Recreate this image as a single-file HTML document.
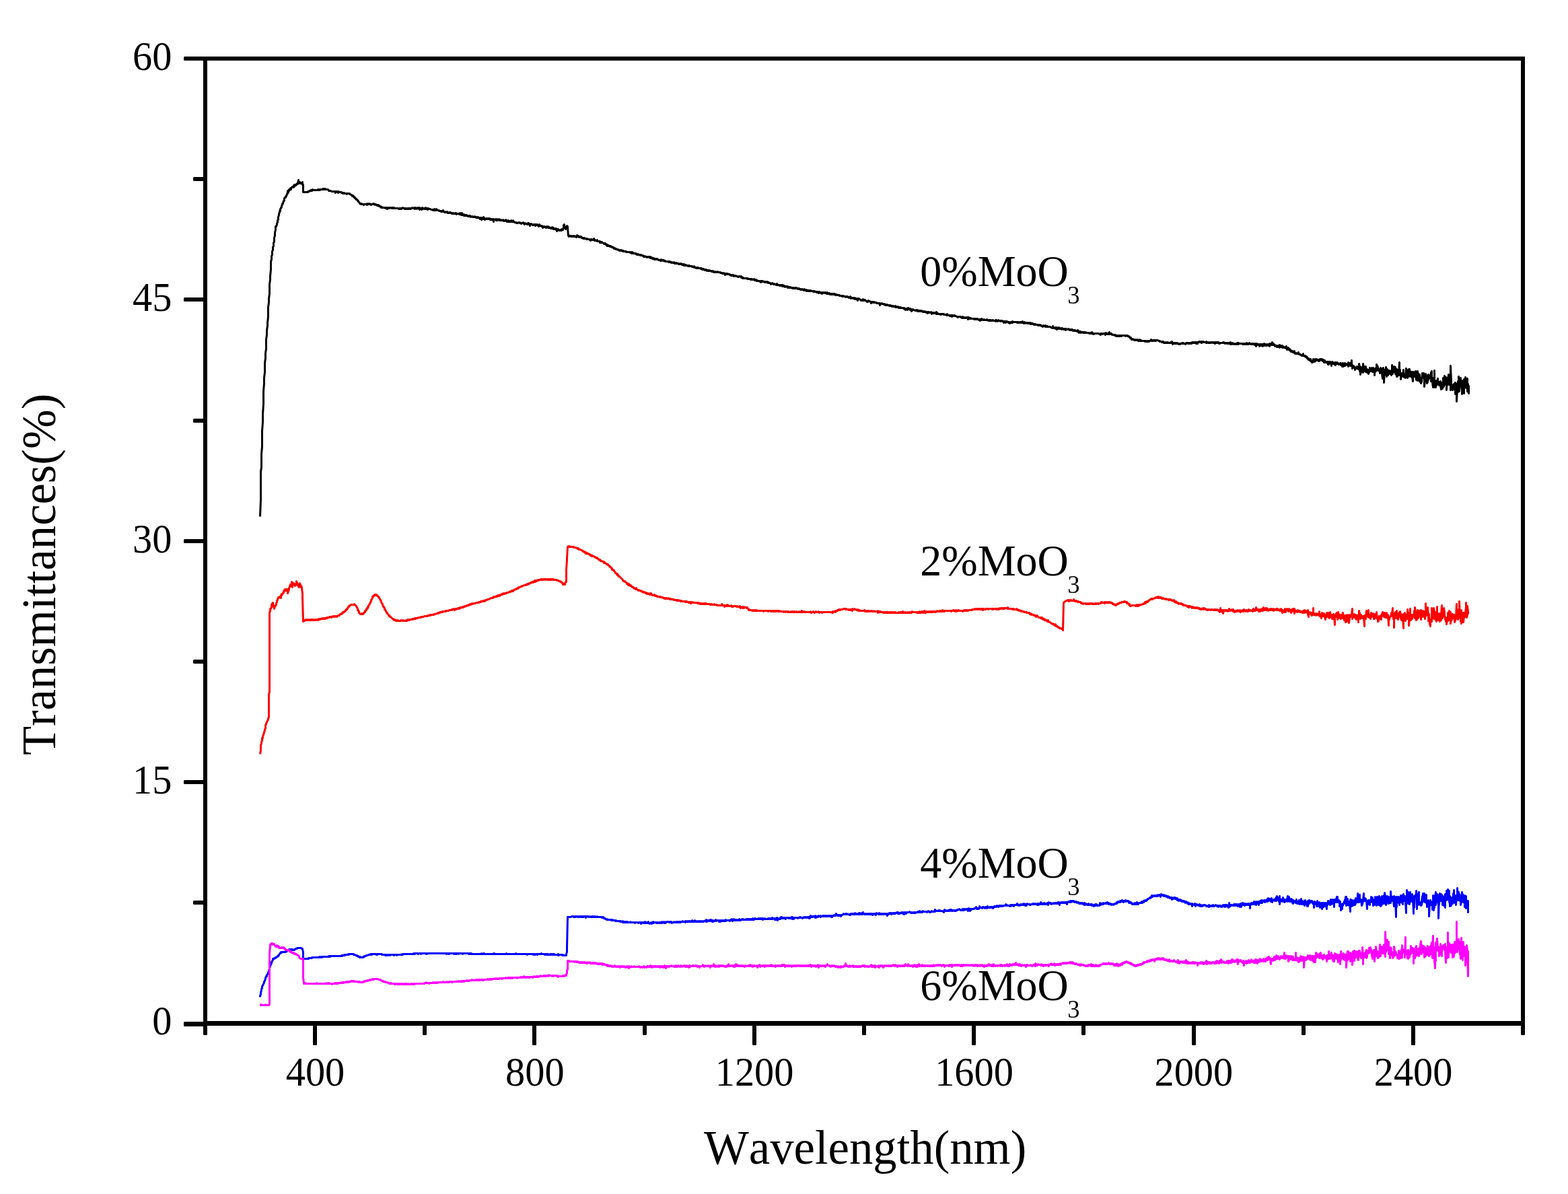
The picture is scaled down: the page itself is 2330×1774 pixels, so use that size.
<!DOCTYPE html>
<html lang="en"><head><meta charset="utf-8"><title>Transmittance spectra</title>
<style>html,body{margin:0;padding:0;background:#fff}body{width:2330px;height:1774px;overflow:hidden}svg{display:block}</style>
</head><body>
<svg width="2330" height="1774" viewBox="0 0 2330 1774"><rect x="0" y="0" width="2330" height="1774" fill="#fff"/>
<g fill="none" stroke-linejoin="round" stroke-linecap="butt">
<path d="M386.5 767.5l1-25 0-42 1-6 0-20 1-11 0-23 1-13 0-13 1-14 0-19 1-12 0-8 1-8 0-14 1-7 0-8 1-6 0-14 1-7 0-7 1-6 0-5 1-9 0-14 1-7 0-6 1-7 0-14 1-7 0-5 1-10 0-12 1-3 0-5 1-2 0-5 1-2 0-4 1-2 0-5 1-1 0-6 1-4 0 1 0-5 1-4 0-5 1-1 0 1 1-3 0-2 1-1 0-3 1-1 0-4 1-3 0-2 1-2 0-2 0 1 1-1 0-3 1-1 0-1 0 1 1-2 0-2 1-1 0-2 1 0 0-1 1-3 0 1 1-2 0-3 1-1 1-1 0-1 0 2 0-1 1-2 0 1 1-3 0-1 0 1 1-1 0-4 0 4 1-2 1-2 0-2 0 1 1-1 0 1 1-2 0-1 1 1 0 1 0-2 1-1 1-1 1 1 0-1 1 0 0-2 1 2 0-3 0 2 1-2 0 1 1 0 0-1 1 0 0-1 1 0 0-1 1 1 0-1 1-5 0 3 1 1 0-1 1 0 0 2 1 0 0-1 1 1 0-1 1 1 0-1 1 1 0-2 0 4 1 0 0 11 7 0 0-1 2 0 0-1 2 0 0-1 1 0 0 1 1 0 0-1 1-1 0 1 8 0 0-1 1 0 0 1 1 0 0-1 1 1 0-1 4 0 0-1 0 1 1-1 1 0 0 1 0-1 1 0 1 1 0-1 1 1 3 0 1 1 0 1 3 0 1 1 5 0 1 2 0-2 1 0 0 1 1-1 1 0 0 1 1-1 0 2 1-1 0-1 0 1 4 0 0 1 2 0 0 1 1-1 1 1 0-1 0 1 4 0 0 1 1-1 3 0 0 1 1 0 1 1 1 0 1 1 0 1 1-1 0 1 1 0 0 1 1 0 0 1 1 0 0 1 1 0 0 1 1 0 0 1 1 0 1 1 0 1 1 0 0 1 1 1 1 1 0 1 2 0 0 1 0-1 0 1 1 0 0-1 1 1 1 0 1 1 0-1 4 0 1-1 0 2 1-1 1 0 0-1 0 1 1 0 1-1 0 1 2 0 0 1 1-1 1 0 1-1 0 1 0-1 1 0 0 1 2 0 0 1 1-1 1 1 1 0 0 1 1-1 0 1 1-1 0 1 1 1 0-1 0 1 0-1 1 1 1 0 0 1 1 0 0 1 1-1 0 1 4 0 1 1 0-1 1 0 0 1 1-1 1 2 0-2 1 1 0-1 0 1 2 0 0-1 0 1 1-1 1 0 1 1 1 0 0-1 1 0 0 1 2 0 0-1 0 1 6 0 1 1 1-1 1 0 0 1 0-1 1 0 1 1 0-1 2 0 0-1 0 1 3 0 0 1 1-1 0 1 1 0 0-1 1 1 1 0 0-1 1 0 1 1 0-1 2 0 0 1 1-1 0 1 1-1 1 0 0-1 0 1 3 0 0-1 1 2 0-1 1-1 0 1 2 0 0 1 1-1 0-1 1 1 0-1 1 1 1 2 0-3 1 1 1 0 0 1 1-1 0 2 1-2 0-1 0 1 1 0 0 1 1-1 1 0 0 1 1 0 0-1 1 0 0-1 0 2 1-1 0 1 1 0 0-1 1 2 0-2 1 1 0-1 1 1 2 0 1 1 3 0 0 1 0-1 1 1 0-1 1 0 0-1 0 2 1 0 0-1 1 0 1 1 0-2 0 2 1-1 1 1 2 0 0 1 3 0 0 1 1-1 0 1 1-1 1-1 0 2 0-1 1 1 1 0 0 1 1 0 0-1 1 1 1 0 1-1 0 1 1 0 0 1 0-1 1 1 1-1 0 1 1-1 1 0 0 1 2 0 0 1 1-1 0 1 1 0 0-1 1 1 2 0 0-1 0 1 1 0 0-1 1 1 0 1 1-1 2 0 1 1 0-1 0 1 1 0 0-2 1 2 1 0 0 1 0-1 1-2 0 2 1 0 0 1 0-1 1 0 0 1 1-1 0 2 0-1 1 0 0 1 1-1 0 1 0-1 1 0 0 1 1 0 0-1 1 1 1 1 1-1 0 1 1-1 0 1 1 0 0-1 0 1 1 0 0 1 1-1 1 0 1 1 0-1 0 1 3 0 0-1 1 1 1 1 0-1 0 1 1 0 0-1 1 1 0-1 1 1 0-1 1 1 1 0 0 1 1 0 0-1 0 2 1-1 0-1 1 3 0-3 1 1 0-1 0 1 1 0 0 1 1 0 0-3 1 2 1 1 0 1 0-2 1 1 1-1 0 1 0-1 1 1 0-1 1 1 1 0 0-1 1 0 1 1 0-1 1 1 0 1 1 0 0-1 1 0 0 1 1 0 0-1 0 1 1 0 0-1 1 4 0-4 0 1 2 0 1-1 0 1 0-1 1 2 0-1 1 0 0 1 0-2 1 1 0 1 1-1 1-1 0 1 1 0 0 1 0-1 1 1 0-1 1 0 0 1 3 0 0-1 0 1 1 0 0 1 1-1 1 0 0 1 1-1 0-1 1 1 1 2 0-2 1 1 1-1 0 2 1-1 0 1 0-1 1 0 1 1 0-1 0 1 1-1 0-1 1 2 0-1 0 1 2 0 0-2 0 2 2 0 0 1 2 0 1 1 0-1 0 1 2 0 1-1 1 0 1 1 0-1 1 1 1 0 0 1 1-1 2 0 0-1 1 1 0 1 1 0 0 1 1-1 0-1 0 1 3 0 0 1 1-2 0 2 1-1 0-1 1 2 0-1 1 2 0 1 0-2 1-1 1 1 0-1 1 1 1 0 0 1 1-1 1 0 0 1 0-1 2 0 0 2 0-2 1 0 0 1 1 0 0-1 1 0 0 1 1 0 0 1 1 1 0-2 1 0 0-1 1 2 2 0 0 1 0-1 1 0 0 1 1 0 0 2 1-2 1 0 0 1 1 0 0-1 1 1 1 1 0-1 0 1 1-2 0 1 1 0 0-1 0 1 1-1 0 2 1-1 0 1 0-1 1 1 0-1 1 1 1 0 0 1 1-1 0 1 1-1 0 1 0-2 1 2 1-1 0 2 0-1 1 1 0-1 1 1 1-1 0 1 1-1 0 2 1-1 0 3 0-2 1-1 0 1 1 0 0-1 1 2 1 0 1-1 1 1 0-1 0 1 1 0 0-2 1 1 1 0 0-1 1-2 0-4 1-1 0 2 1 1 0 2 1 1 0 1 0-1 1-2 1-1 0-1 0 1 1 0 0 2 1 12 1-1 0 2 1-1 1 0 1 1 0-1 1 1 0-1 0 1 1-1 0 1 1-1 1 0 0 1 1-1 0 1 2 0 1 1 0-2 1 0 0-1 1 2 0-1 0 1 1 0 0-1 1 1 0 1 1-1 0 1 1 0 0-1 1 0 0 1 1 0 0 1 2 0 0 1 1-1 0 1 1 0 0-1 1 1 1 0 1 1 0-1 0 1 1-1 0 1 3 0 1 1 0-1 1 1 0 1 1-1 0-1 1 0 0 1 3 0 0-2 1 2 0 1 1 0 0-1 0 1 2 0 1-1 0 2 4 0 0 2 0-2 0 1 1 1 0-1 1 0 0 1 1-1 0 1 1 0 1 1 1 1 0-1 2 0 0 1 1 0 0 1 1 0 0 1 1-1 0 2 1-1 0 1 1 0 0-1 0 1 1 0 1 1 0-1 1 0 0 1 1 0 1 1 0-1 0 1 2 0 0 1 1 0 0 1 1-1 0 1 0-1 1 1 1 0 0 1 3 0 0 1 1 0 1 1 0-1 0 1 1-1 1 1 0-1 1 1 0-1 1 1 1 1 1-1 0 1 4 0 0 1 5 0 1 1 1 0 0-1 1 1 0 1 1-2 1 1 0 1 4 0 0 1 1-1 1 1 0 1 0-1 1 1 1-1 0 1 3 0 0 1 1 0 0-1 1 1 2 0 0 1 1 1 0-1 1 0 0 1 0-1 1 0 0 1 2 0 1 1 0-1 2 0 1 1 0-1 1 0 0 1 1-1 0 2 1-1 1 0 0 1 1 0 0 1 1-1 0 1 1 0 0-1 1 2 0-1 1 1 0-1 1 0 1 1 0-1 1 0 1 1 1 0 0 1 2 0 1 1 1-2 0 2 0-1 2 0 1 1 0-1 1 0 0 1 1 0 1 1 0-1 0 1 4 0 1 1 0-1 1 0 1 1 0-1 0 1 2 0 0 1 0-1 1 0 1 1 1 0 1-1 0 1 1 0 0 1 1-1 0 1 1-1 0 1 1 0 0-1 1 1 2 0 0 1 0-1 1 1 1 0 0-1 1 1 1 0 0-1 1 1 0 1 1-1 0 1 1-1 0 1 0-1 1 2 0-2 1 1 0 1 1-1 0 1 1-1 0 1 3 0 0 1 1 0 0-1 1 1 0-1 1 1 2 0 1 1 0-1 1 1 1 0 1-1 0 2 1-1 1 1 1 1 1-1 0 1 1 0 0-1 1 0 1 1 3 0 0 1 1-1 0 1 1 0 0 1 1-1 0 1 0-1 1 0 0 1 2 0 0 1 1-1 1 0 0 1 1 0 0 1 1-1 1 0 0 1 1 0 0-1 1 1 0-1 0 1 3 0 0 1 1 0 1-1 0 1 1 1 0-1 1 0 0 1 2 0 0-1 1 1 2 0 0-1 1 1 2 0 1 1 0-1 0 1 3 0 0 1 0-1 1 1 1-1 0 1 2 0 0 2 1-2 0 1 1 0 0-1 0 1 1-1 0 1 1-1 0 1 0-1 1 1 1 0 1 1 0-1 1 1 1 1 0-1 1 0 0 1 1 0 0-1 0 1 1-1 0 1 1 0 0 1 1-1 1 0 1 1 0-1 1 1 1 0 1 1 1-1 0 1 0-1 2 0 1 1 1 0 0-1 0 2 1-1 1 1 0 1 1 0 0-1 1 1 5 0 0 1 1 0 0-1 1 1 2 0 1 1 0-1 2 0 0 1 3 0 0-1 1 2 0-1 1 0 0 1 1-1 0 1 1 1 0-1 0 1 1-1 0 1 3 0 1 1 0-1 1 0 0 2 0-2 1 1 0-1 1 0 0 1 1-1 0 1 3 0 0 1 1 0 0-1 1 1 1 0 0-1 0 1 1-1 0 1 1 1 0-1 0 1 1-1 0 1 2 0 1 1 0 1 1-1 1 0 0-1 1 1 1 0 0 1 1 0 0-1 1 1 1 0 1 1 0-1 1-1 0 2 1 0 0-1 0 1 2 0 1 1 0-1 1 0 0 1 1-1 1 0 0 1 1 1 0-2 1 1 0-1 0 1 1 0 0 1 1-1 0 1 1 1 0-1 3 0 0 1 1-1 0 2 1-1 1 0 0 1 0-1 1 1 0-1 1 0 0 1 0-1 1 1 2 0 0 1 0-1 1 1 0-1 1 0 0 1 2 0 0-1 1 0 0 1 1 0 0-1 1 1 1 0 0 1 1-1 1 1 0-1 1 1 1 1 0-1 1 0 1 1 1-1 0 1 2 0 0 1 0-1 1-1 0 1 1 1 1 0 1 1 0-2 1 1 0 1 1-1 1 0 0 1 1-1 0 1 1-1 0 1 1-1 0 1 3 0 1 1 0-1 1 0 1 1 0-1 1 1 2 0 0 1 1-1 0 1 1-1 0 1 1 0 0 1 1-2 0 1 2 0 0 1 0-1 1 0 0 1 1 0 0-1 0 2 1-1 0-1 1 0 0 1 1-1 1 0 0 1 1 0 1-1 0 1 1 1 0-1 1-1 0 2 1-1 0 1 2 0 0-1 0 1 1 0 0 1 1-1 0 1 1 0 0-1 1 0 0 1 0-1 1 0 0 1 1-1 0 1 1 0 0-1 0 1 1-1 0 1 1 0 0 1 0-1 1 0 0 1 1-1 1 1 3 0 0 1 4 0 0 1 1 0 1-1 1 1 2 0 0 1 1-1 2 0 0 1 2 0 0 1 1-1 1 0 0-1 0 2 1-1 0 2 1-1 2 0 0 1 1-1 0 1 1 0 1-1 0 2 1-1 1 1 0-1 0 1 1 0 1 2 0-3 1 1 0-1 1 0 0 1 1 0 1 1 1 0 0 1 1 0 1-1 0 1 1 0 0-2 1 1 0 1 1 0 0-1 1 1 0-1 0 1 1 0 1 1 1 0 0 1 1-1 0 1 1-2 0 1 2 0 1 1 1 2 0-2 2 0 0 1 1 0 0-1 1 1 1 0 0-1 1 1 1 0 1 1 0-1 1 1 2 0 1 1 0-1 1 2 0-2 0 3 1-2 2 0 0-1 0 1 2 0 1 1 1-1 0 1 1 0 0 1 1-1 0 1 0-1 1 1 1 0 0-1 0 1 3 0 0 1 1-1 0 1 1 0 0-1 0 1 2 0 0 1 1-1 1 1 0-1 0 1 2 0 1-1 0 2 1 0 0-1 0 1 1-1 0 1 0-1 1 1 1-1 0 1 1 1 0-1 1 0 0 1 1-1 0 1 1-1 0 1 3 0 1 1 0-1 1 1 0-1 1 1 0 1 1-1 0 2 1-2 1 0 1 1 0 1 1-3 0 2 1 0 1-1 0 1 1 1 0-2 0 1 1 1 0-1 1 0 0 3 1-2 0 1 1-1 0-1 1 1 1 0 1 1 2 0 0-1 0 1 1 0 1 1 0-2 0 1 1 0 1 1 0-1 0 1 1-1 1 1 0-1 0 1 2 0 0-1 0 1 1 0 1 1 0-1 1 1 0-1 1 1 1 0 0-1 0 1 2 0 0 1 1 0 0-1 1 2 0-2 2 0 0 1 3 0 0-1 1 1 0 2 1-1 0-1 1 1 0-1 1 0 0 1 1-1 0 1 1 0 0-1 0 1 1 0 1 1 0-3 1 2 0 1 1 0 0-1 1 1 2 0 1 1 0-1 1 0 0 1 0-1 4 0 0 1 4 0 0 1 1-1 0-1 0 2 1-1 1 1 2 0 0 1 1 0 0-1 1 1 0-1 1 0 0 2 1-1 0-1 0 1 1 0 1-1 1 0 0 1 2 0 1 1 1 0 1 1 0-1 3 0 1 1 0-1 1 1 1 0 0 1 0-1 1 0 0-1 1 1 0 1 1-1 1 1 1-1 0 1 2 0 0-1 1 0 0 1 1 0 0 2 0-3 1 0 0 1 1 0 0 1 0-1 1 0 0 1 1-1 0 1 0-1 1 1 3 0 1 1 0-1 1 1 0-1 1 0 1 1 1-1 0 1 0-1 1 0 0 1 1 0 1 1 0-1 1 0 1 2 0-2 0 1 1 0 0-1 1-1 0 2 1 0 0-1 1 1 0-1 0 1 1 0 1-1 0 1 4 0 0-1 1 1 1 1 1 0 0-1 2 0 0 1 0-1 1 1 0-1 1 1 1-1 0 1 1-1 1 1 2 0 1-1 0 2 1-2 0 1 1 0 1 1 0-1 1-1 0 1 3 0 0 1 1-1 1 0 1 1 0-1 0 1 2 0 0 2 0-2 3 0 0 2 1-2 1 0 1 1 1 0 0 1 0-1 1 0 0 1 1 1 0-1 0 1 1-1 0-1 1 1 0-1 1 0 0 1 0-1 1 1 0-2 1 1 6 0 0 1 0-1 1 0 0 1 1-1 0 1 0-1 1 1 1-1 1 0 0 1 1 0 0-1 1 0 0 1 1-1 0-1 0 2 1-1 0 1 0-1 1 1 0 1 1-1 0-1 0 1 1 0 0 1 1-1 2 0 0 1 1 0 0-1 0 1 1-1 0 1 1 0 0-1 1 1 1-1 0 2 1 0 1-1 1 0 0 1 2 0 0 1 1-1 0 1 1-1 1 1 2 0 1 1 0-1 0 1 1-1 0 1 1 0 1-1 0 1 1 0 1 1 0-1 1 1 1 1 0-1 1-1 0 1 2 0 1-1 0 2 2 0 0-1 1 0 0 1 4 0 1 1 2 0 0 1 1-1 0-2 0 2 1 0 0 1 1-1 0 1 1 0 1 1 0-2 1 1 1 2 0-3 1 2 0-1 2 0 0-1 0 2 1 0 0-1 1 1 1 0 0-1 1 2 0-1 1 0 0-1 0 1 2 0 0 1 1-1 1 1 0-1 1 0 0 2 1-1 0-1 1 1 2 0 0-1 1 1 1 1 0-1 1 0 0 1 1 0 0-1 1 1 0-1 1 0 0 1 1 1 0-1 1 1 0-1 1 1 0-1 1 0 0 1 3 0 0 1 1 0 0-2 1 2 0 1 1 1 0-2 1 0 0 1 1 0 0-1 1 2 0-1 3 0 0 1 1 0 0-1 1 0 0 1 0-1 1 1 1-1 0 1 0-1 1 1 3 0 1 1 0-1 1 1 1 0 0-1 1 1 1 0 0-2 1 1 0 1 1 1 0-1 1 1 1-1 6 0 1 1 1 0 1 1 0-2 0 1 1-1 1 0 1 1 1-1 2 0 1 2 0-2 0 1 1-2 0 1 1 0 0 1 1-1 1 0 0 1 0-1 1-1 0 2 1 0 0-3 0 3 1-1 0 1 1-1 1 0 0 1 1 1 0-1 1 1 2 0 1 1 0-1 1 0 0 1 1 0 0 1 1 0 0-1 1 1 0-1 1 0 0 1 1 0 0-1 0 1 1-1 1 0 0 1 1 0 0-1 1 0 0 1 0-1 6 0 0 1 1-1 1 0 1 1 0-1 0 1 2 0 0 1 1 0 1 1 0 1 1-1 0 1 1 2 0-1 1 0 0 1 1 0 0-1 1 1 1 1 0-1 1 1 0-1 1 1 1 0 0-1 1 1 1-1 0 1 1 0 0 1 1-1 0 1 1 0 0-2 1 1 0 1 1 0 0-1 0 1 5 0 1 1 0-1 1 0 1 1 1-1 0 1 1 0 0-1 1 1 0-1 1 0 0 1 1-1 1 0 1-2 0 1 1 1 1 0 0-1 1 1 0-1 2 0 0 1 1-1 1 0 0 1 0-1 3 0 1 1 1 0 1 1 0-1 1 1 1 0 1 1 0-1 1 0 0 1 1 0 0-1 1 2 0-1 1 1 1-1 0 1 1 0 1-1 0 1 1 0 1-1 0 1 4 0 0-1 1 1 1 0 0-2 0 2 1 0 0 2 1-2 1 0 0 1 1 0 0-1 1 1 0-1 0 1 1 0 0-1 1 1 0-1 0 1 1 0 0-1 1 1 1 1 0-1 1 0 1 1 0-1 2 0 1-1 0 1 1 0 0-1 1 1 0-1 1 1 2 0 0 1 0-1 1 0 0-1 3 0 0 1 1 0 0-1 1 0 0 1 1-1 0 1 1-1 1 0 0 1 0-1 1 0 0-1 1 0 0 1 0-1 1 0 0 1 1-1 0 1 1-1 0 1 0-1 2 0 0 2 0-1 1-1 0 1 1-1 0 2 0-1 1-1 1 0 0-1 1 0 1 1 0-1 1 1 1-1 0 2 1-1 0-1 1 1 1 0 0-1 1 1 2 0 1-1 0 2 0-1 1 0 0 1 1-1 1 0 0 1 0-1 1 1 1 0 0-1 1 1 0-1 1 1 0-1 0 1 1-1 1 0 1 1 0-1 1 1 0-1 0 1 1-1 1 2 0-2 1 0 0 1 1 0 0-1 1 1 0-1 2 0 0 1 0-1 1 1 0 1 1-1 0 1 1-1 4 0 0-1 1 1 0-1 1 1 1 1 0-1 3 0 0 1 0-1 1 0 0 1 1 0 0-1 1 0 0 1 0-1 1 0 1 2 0-3 0 2 1 0 1 1 0-1 0 1 1-2 1 1 1 0 0 1 1-1 0 1 1-1 1 1 1-1 0 1 1-2 0 1 1-1 0 2 0-1 1-1 0 2 1-1 5 0 0 1 1-1 0 1 1 0 0-1 1 1 0-1 1 1 0-1 1 0 1 1 0-2 1 1 0 1 1-1 1 1 0-1 1 0 0-1 1 1 1 1 1 0 0-1 0 1 1-1 1 0 0 1 0-1 1 1 0-1 1 0 0 1 1 1 0-1 1 0 0-1 1 4 0-3 1-1 1 1 0 1 1-1 1 0 0 1 0-1 1 2 0 1 1-2 0 1 0-2 1 0 0 1 1 0 0 1 0-2 1 0 0 1 1 2 0-3 1 0 1-1 0 2 1 1 0-2 0 1 1 0 0-1 1 1 0 1 0-2 1 1 0 1 1-2 1 1 1-1 0 2 0-2 1-1 0 4 1-3 1 0 0-1 0 1 1 0 0 1 1 0 0-4 1 4 0-1 1-1 0 2 1 0 1 1 0-1 0 2 1-1 1 0 0 1 1-1 0 2 1-1 0 1 1-2 1 0 0 2 1 1 0-4 1 2 1-1 0 2 1-1 1 2 0-3 0 2 1-1 0 1 1 1 0-1 1 0 0 1 1-1 0 1 1 1 0-2 0 2 1-3 0 3 1-1 0 3 1-1 0-1 1 1 0-2 0 3 1-1 1 0 0 2 1 0 0 1 1-1 0 2 1 0 0-1 1 1 0-1 1 2 0-1 1 1 1-1 0-1 0 3 1 1 0-1 1 1 0-1 1 1 0-1 1 1 1-1 0 1 1-2 0 2 1 0 0 1 0-1 1 1 1 1 0-1 1 1 1 1 0-1 0 1 1-1 0 1 1 0 0-3 0 3 2 0 0 1 1-1 0 1 1 0 0 1 1 0 0-1 0 2 1 1 0-2 1 3 0-1 1 0 0 2 1 0 0-1 1 1 0 1 1 0 0 1 0-3 1 3 1 2 1-1 0 1 0-2 1 1 0-4 1 1 0 2 1 0 0 1 1-1 0-3 0 2 1-1 1 1 0-2 0 1 1 1 1-1 0 1 0-1 1 2 0-2 1 2 0-2 1 1 0-2 0 2 1-2 0 1 1-1 0 1 1-1 0 2 1-1 0 2 1-1 0-1 1 1 0 3 0-3 1 1 0-1 1 3 0-1 0 1 1 0 0-1 2 0 0 2 0-2 1 0 0 4 1-4 0 4 0-3 1 0 0-1 1 0 0 1 1 2 1-2 0 5 0-3 1-2 0-1 1 3 0-2 1 2 1-1 0-1 1 3 0-2 1 3 0-4 1 2 0-2 1 2 0-1 1-1 0 2 1 0 1 1 0-1 1 0 0 1 1-2 0 1 1-1 0 3 1-1 0 1 1-1 0 3 0-3 1-2 0 3 1 2 0-3 0 2 1-1 1 0 0 1 0-4 1 3 0-2 1 2 0-2 0 1 2 0 1-1 0 4 0-6 0 4 1-3 0 1 1 0 1-1 0 4 1-1 0 1 1-8 0 8 1 0 0-1 0 5 1-2 1-2 0 1 1 1 0 1 1-1 0 4 1-2 0-1 1 1 1-2 0-1 1 2 0 1 1-1 0 2 0-2 1 0 0-6 1 4 0 7 1-2 0 7 1-5 0-6 1 1 0 1 1-2 0 6 1 2 0-5 0 2 0-10 1 9 0-4 1 6 0-7 1 1 0 1 1 1 0-3 0 8 1-2 0-1 1-1 0 5 0-1 1-3 0 1 1 1 0 4 1-6 0 4 1-7 0 1 1 3 0 1 0-2 1 1 1-1 0-3 0 4 1 2 0-1 1-1 0-4 0 4 1 2 0-3 1 0 0 8 1-10 0 5 0-2 1 1 0-4 1-2 0 4 0-8 1 4 0-2 1 2 0 5 1-2 1 0 0 3 1-3 0 6 1-6 0 3 0-5 1 1 0 2 1 1 0 4 1 8 0-12 0 2 1-6 0 2 1 1 0 19 1-19 0 3 1 4 0-4 1 2 0-9 1 4 0 10 0-6 1-3 0-2 1 5 0 4 1-7 0 1 1 0 0-1 1 5 0-4 1 1 0 1 1 4 0-7 1 4 0-12 1 13 0-2 1-3 0-2 1 4 0-8 0 7 1-4 0 2 1 6 0-10 1 8 0 3 0-6 1-2 0 11 1-3 0-7 0 10 1-4 0-4 1 3 0-4 0 5 1-17 0 19 1-8 0 5 1 3 0 6 1-8 0-1 0 2 1 3 0-4 1 0 0 3 1-9 0 6 1 5 0-2 1 1 0-3 1-1 0 6 1-14 0 11 1-2 0 2 1-4 0 7 0-9 1 1 0-4 1-1 0 10 1-10 0 11 1-4 0-4 1 3 0-1 0 3 1-2 0 6 1-8 0 7 1 7 0-11 1-1 0 2 0-4 1 4 0 3 1-3 0-2 0 2 1 4 0-9 1 13 0-9 1-2 0 9 0-5 1-6 0 14 1-11 0 10 1-6 0 5 1-7 0 10 0-7 1 6 0 2 1-2 0 4 0-3 1 1 0-7 0 7 1-13 0 5 0-1 1-3 0 5 1-6 0 7 1 0 0-1 0 14 1-10 0 3 1-7 0-5 1 9 0-7 1 6 0 6 1-2 0-6 1 3 0-8 0 4 1 2 0-5 1 1 0 3 0-1 1 1 0-2 1-6 0 13 1-15 0 11 1 5 0 1 1 7 0-14 0 12 1-3 0-1 1 6 0-25 0 14 1 4 0 1 1 0 0 6 1-4 0-6 1 6 0-2 1-7 0 8 0-1 1 0 0-2 1 0 0 5 0-2 1-2 0-1 1-1 0 6 1 6 0-6 1-2 0-2 0 6 1 3 0-5 1-1 0-10 1 7 0 6 1-16 0 13 1-1 0-8 0 5 1 4 0-11 1 7 0-1 0 13 1-18 0 6 1 3 0-10 0 11 1-15 0 7 1-2 0 10 1-2 0-4 1-2 0 16 0-36 1 23 0 7 1-1 0 1 1 2 0 4 0-5 1 3 0-6 1 4 0 3 0-8 1 3 1-5 0 17 1-16 0 4 1 0 0-1 0 24 1-19 0 1 1 4 0-16 1 12 0-19 1 10 0 12 1-18 0 10 1-12 0 5 1 4 0 4 0-3 1 8 0 6 1-17 0 9 0-12 1 7 0 6 1 6 0-21 0 7 1-2 0 8 1-9 0-7 1 15 0-13 0 6 1-1 0 9 1-14 0 19 1-11 0 10 1 4 0-12" stroke="#000" stroke-width="3"/>
<path d="M386.5 1120.5l1-6 0-7 1-3 0-2 1-2 0-4 1 0 0-3 1-1 0-2 1-1 0-2 1-2 0-2 1-1 0-5 1-1 0-2 1-1 0-1 1-1 0-1 1-1 0-2 1-2 0-34 1-3 0-119 1-1 0-4 1 0 0-1 1-1 0-4 1-1 0-1 0 1 1-1 0 1 0-2 1 5 0 1 1 0 0 3 1-4 0 1 1-1 0-1 1-1 0-2 1-2 0-2 1-1 0-1 1-2 0-1 1 0 0 1 1-1 0-1 1 0 1 2 0-4 0 1 1-3 0 2 0-1 1-1 0 1 1-2 1-2 0 1 0-2 1 0 0-2 1-1 1 0 0 2 1-2 0 2 1-1 0 1 1-2 0 6 1-3 0-3 1 0 0 1 0-3 1-1 0-1 1-3 0 3 1-3 1-2 0-2 1 2 0 6 0-6 1 1 0-1 1 1 0-1 0 2 1 1 0-2 1 2 0 1 1-2 0 1 1-3 0-3 0 2 1 0 0 1 1 3 0-2 0 1 1 3 0-1 1 2 0-1 1-3 0-2 0 4 1-2 0 2 0-1 1 1 0 2 0-2 1 2 0 2 1 8 0 6 1 34 0 1 1-1 0-1 1 1 0-1 1 0 1-1 1 1 1 0 0-1 1 1 1 0 0-1 1 1 1 0 0-1 1 0 0 1 1 0 0-1 0 1 1-1 0 1 1-1 1 0 0 1 1-1 0 1 1 0 1-1 1 0 0 1 1-1 1 0 1 1 0-1 1-1 0 1 2 0 0-1 0 1 1-1 2 0 0-1 1 1 1 0 0-1 1 1 0-1 2 0 0 1 1-1 1 0 0-1 1 1 0-1 3 0 0-1 2 0 1 1 0-1 1 0 1-1 0 1 1 0 0-1 0 1 1-1 1 1 0-1 2 0 1 1 0-1 1 0 1-1 2 0 0-1 1-1 2 0 0-1 1 0 0-1 1 0 0-1 2 0 0-1 1 0 1-1 0-1 1 0 0-1 1 0 0-1 1 0 0-1 1-1 0-1 1 0 0-1 1 0 0-1 1 0 1-1 5 0 0-1 0 1 1 0 1 1 1 1 0 1 1 1 1 2 0 2 1 0 0 1 1 1 0 2 1 1 1 1 1 0 1-1 0 1 2 0 0-1 1 0 0-1 1-1 1 0 0-2 0 1 1-1 0-1 1 0 0-2 1 0 0-1 1 0 0-2 1 0 0-1 1-2 1-1 0-1 1-1 0-1 1-1 0-2 1-1 1-2 0-2 1 0 0-1 1 0 0-1 1 0 0-1 1 1 0-1 2 0 0 1 1 0 0 1 1 0 1 1 0 1 1 0 0 1 1 1 0 1 1 1 0 1 1 1 0 1 1 2 1 1 0 2 1 1 0 1 1 0 0 1 1 1 0 2 1 0 0 1 1 1 0 1 1 1 0 1 1 0 0 1 1 1 1 1 0 1 1 0 0 1 1 0 0 1 0-1 1 1 1 1 1 1 1 1 1 0 0 1 1 1 0-1 1 0 0 1 0-1 1 1 1 0 0 1 1-1 1 0 0 1 1 0 0-1 0 1 3 0 1-1 0 1 1-1 1 0 1 1 1-1 1 1 3 0 0-1 1 1 0-1 1 0 0-1 1 1 1-1 1 1 1-1 2 0 1-1 1 0 0 1 0-1 3 0 0-1 1 0 0 1 0-1 3 0 1-1 3 0 1-1 0 1 1-1 3 0 1-1 5 0 0-1 0 1 1-1 1 0 1-1 0 1 1-1 0 1 1-1 3 0 1-1 0 1 0-1 3 0 1-1 2 0 0-1 1 0 0 1 1-1 1 0 0-1 3 0 1-1 0 1 0-1 5 0 0-1 4 0 1-1 4 0 0-1 1 0 1-1 0 1 2 0 0 1 1-2 0 1 1 0 0-1 0 1 1-1 2 0 0-1 1 0 1 1 0-1 1 0 0-1 1 0 0 1 1-1 2 0 0-1 1 1 0-1 2 0 0-1 3 0 0-1 3 0 0-1 1 0 1-1 0 1 1 0 0-1 2 0 0-1 0 1 1 0 1-1 3 0 1-1 4 0 0-1 3 0 0-1 3 0 0-1 1 1 0-1 1 0 0 1 0-1 2 0 0-1 2 0 1-1 2 0 1-1 1 0 1-1 3 0 0-1 0 1 1-1 0-1 1 1 1-1 2 0 0-1 0 1 1 0 0-1 1 0 0-1 1 1 0-1 2 0 0 1 1-1 0-1 0 1 1-1 1 0 0-1 1 1 0-1 1 0 0-1 1 1 1 0 0-1 2 0 1-1 0 1 1-1 2 0 1-1 2 0 0-1 2 0 0-1 1 0 1 1 0-1 1-1 1 0 1-1 2 0 0-1 2 0 0-1 1 0 0-1 0 1 1-1 1 0 1-1 2 0 0-1 2 0 1-1 2 0 1-1 0 1 1-1 1 0 0-1 1 1 0-1 1 0 1-1 0 1 1-1 1-1 0 1 0-1 0 1 1-1 1 0 0-1 1 0 1 1 0-1 1 0 0-1 1 0 0-1 1 2 0-2 2 0 0 1 0-1 1 0 1-1 0 1 1-1 0 1 1-1 2 0 0-1 1 1 0-1 1 1 0-1 1 1 1 0 0-1 3 0 0 1 0-1 2 0 1 1 0-1 1 0 0 1 1-1 0 1 1 0 0-1 1 0 0 1 0-1 1 0 0 1 1 0 0-1 1 0 1 1 0-1 1 1 0-1 1 1 3 0 1 1 0-1 1 1 1 0 1 1 2 0 0 1 2 0 0 1 1 1 1 0 0 2 3 0 0-2 1-1 0-1 1 0 0-18 1-14 0-3 1-17 1-1 0 1 2 0 0-1 1 1 5 0 0 1 3 0 1 1 2 0 0 1 1-1 0 1 1 0 0 1 2 0 1 1 1 0 1 1 1 0 0 1 0-1 1 1 1 0 0 1 1 0 0 1 1-1 0 2 0-1 2 0 0 1 1 0 1 1 0-1 1 1 1 0 0 1 1 0 0 1 1 0 0-1 1 1 0 1 1 0 0-1 1 1 1 0 1 1 1 1 0-1 1 1 1 0 0 1 0-1 1 0 0 1 1 1 1 0 0 1 2 0 0 1 1 0 0 1 2 0 1 1 2 0 0 2 1-1 0 1 1 0 1 1 1 0 0 1 1 0 1 1 0-1 0 1 1 1 1 0 0 1 1 0 0 1 1 0 1 1 0 1 1 0 0 2 1 0 1 1 0-1 1 1 0 1 1 1 1 1 0 1 1 0 1 1 0 1 1-1 0 2 1 0 0 1 1 0 0 1 1 0 1 1 1 1 1 1 1 1 1 1 0 1 1 1 2 0 0 1 1 0 1 1 1 1 0 1 1 0 0-1 0 1 1 0 0 2 1-2 0 2 1-1 0 1 1 1 1-1 0 1 1 1 1 0 0 1 2 0 0 1 1 0 0 1 2 0 0 1 1-2 0 2 1 0 1 1 1 0 0 1 1 0 0-1 1 1 2 0 0 1 2 0 0 1 1 0 1 1 0-1 1 0 1 1 1 0 0 1 1-1 1 2 0-1 1 0 1 1 0-1 1 1 1 0 0 1 1-2 0 2 1-2 0 2 2 0 0 1 3 0 0-1 0 1 1 0 0 1 1-1 0 1 1 0 1 1 0-1 0 1 4 0 0 1 1-1 1 1 2 0 1 1 2 0 0 1 0-1 1 1 0-1 1 1 0-1 1 0 0 1 0-1 1 1 1 0 1-1 0 1 1 0 1 1 0-1 1 0 0 1 4 0 1 1 0-1 1 1 3 0 0 1 0-1 2 0 0 1 1 0 0-1 1 1 2 0 0 1 1 0 0-1 1 1 5 0 0 1 1 0 0-1 1 0 0 1 2 0 1 1 0-1 0 1 1 0 0-1 1 0 0 1 1-1 0 2 1-2 0 1 1 0 1-1 1 1 6 0 0 1 1-1 0 1 1 0 0-1 0 1 1 0 1 1 0-1 1 0 0 1 0-1 1 0 0 1 1-1 0 1 1 0 0-1 1 1 0-1 1 0 0 1 1 0 1-1 0 1 1 0 0-1 1 1 5 0 0 1 1-1 0 1 1-1 1 1 2 0 1-1 0 1 4 0 0 1 7 0 0-2 1 2 3 0 0 2 0-2 2 0 0 1 1-1 1 0 0 1 0-2 1 1 0 1 1-1 1 1 3 0 0-1 1 1 0 1 0-1 2 0 0 1 1-1 3 0 1 1 1 0 0-1 1 1 2 0 1-1 0 2 1 1 0-2 1 1 2 0 0-1 0 2 1-1 1 1 0-2 0 1 3 0 1 1 0-1 1 0 0 1 1 1 1 1 0 1 1-1 0 1 3 0 1 1 1 0 0-1 0 1 2 0 0-1 0 1 1 0 0-1 1 1 1 0 0-1 0 1 1 0 0-1 1 1 8 0 1 1 0-1 6 0 1 1 0-1 4 0 0 1 0-1 1 1 0-1 2 0 0 1 1-1 0 1 1-1 0 1 1 0 0-1 1 1 0-1 1 0 0 1 0-1 2 0 1 1 0-1 0 1 1-1 0 1 1-1 1 1 5 0 0 1 1-1 2 0 0 1 1-1 1 0 1 1 1-1 0 1 0-1 1 1 2 0 1-1 1 1 1-1 0 1 1-1 0 1 1-1 0 1 1 0 0-1 0 1 2 0 1-1 0 1 3 0 1-1 0 1 3 0 1-2 0 2 0-1 1 1 1 0 0-1 0 1 2 0 0-1 1 1 7 0 1-1 0 1 1 1 0-1 2 0 1-1 0 1 1 0 1 1 0-1 1 0 1-1 0 1 4 0 0-1 0 1 1 0 0 1 1-1 2 0 1 1 0-1 15 0 0 1 1 0 0-2 1 1 0-1 2 0 1-1 0 2 1-1 0-1 2 0 0-1 0 1 0-1 2 0 0-1 1 0 1 1 0-1 4 0 1-1 2 0 1 1 0-1 1 0 0 1 4 0 0 1 1-1 0 1 1-1 0 1 1 0 0-1 0 1 1-1 0 1 1 1 0-3 1 1 1 0 1-1 0 1 2 0 1 1 0-1 1 1 1 0 0-1 1 2 0-1 0 1 1-1 1 0 0 1 6 0 1-1 0 1 1 0 0 1 1-1 0 1 1 0 0-1 1 0 0 1 1-1 0 1 0-1 1 0 1 1 0-1 1 1 1 0 1-1 1 0 0 1 3 0 0-1 0 1 5 0 1-1 0 3 1-2 1 1 0-1 1 1 0-1 1 1 0-1 1 1 3 0 0 1 1 0 0-1 1 1 0-1 2 0 0 1 1-1 0 1 0-1 2 0 0 1 0-1 1 1 1-1 0 1 1-1 0 1 1 0 0-1 1 0 1 1 1-1 0 1 0-1 1 0 1 1 1-1 0 1 0-1 1 0 0 1 5 0 0-1 1 1 1-1 1 0 0 1 1-1 0 1 1 0 1-2 0 2 1-1 0 1 1-1 1 1 1-1 0 1 3 0 0-1 0 1 2 0 0-1 1 0 0 1 2 0 0-1 1 1 0-1 1-1 0 1 6 0 1 1 0-1 1 0 0 1 1 0 0-1 0 1 1 0 0-1 1 0 0-1 1 2 1 0 0-1 1-1 0 1 1-1 1 2 0-1 1 0 0-1 1 1 0-2 1 2 0 1 1 0 0-2 1 1 0-1 1 0 0 1 0-1 0 1 2 0 0-1 1 1 1-1 0 1 1 0 0-1 1 0 0 1 1 0 0-1 2 0 0 1 0-1 3 0 0 1 1 0 1-1 1 0 0-1 1 1 2 0 0-1 0 1 1-1 1 0 0 1 0-1 1 1 1 0 0-1 1 1 0-2 1 2 0-1 1 0 0 1 0-1 1 1 0-1 10 0 0 1 0-1 2 0 1-1 0 1 1 0 0-1 1 1 1 0 0 1 1-2 0 1 1 1 0-1 2 0 0-1 1 1 0-1 1 1 5 0 0 1 1-1 1-1 0 1 1 0 0-1 1 0 0 1 1-1 0 1 0-1 1 0 0 1 1-1 0 1 0-1 1 1 1-1 5 0 0-1 4 0 0-1 0 1 1 0 1-1 1 1 1 0 0-1 1 1 0-1 0 1 1-1 0 1 1-1 1 1 0-1 1 1 0-1 2 0 0 1 1 1 0-2 1 0 0 1 3 0 0-1 0 1 1-1 2 0 1 1 0-1 6 0 0 1 1-1 0 1 0-1 5 0 0 1 1-1 1 0 0 1 1-1 1 0 0 1 1-1 0-1 1 1 1-1 1 0 0 1 0-1 1 0 1 1 0-1 1 0 0 1 1 0 0-1 4 0 1 1 0-2 0 1 1 0 0 1 5 0 1 1 0-1 1 0 0 1 1 0 0-1 0 1 4 0 0-1 0 1 1 1 0-1 1 0 0 1 2 0 0 1 1 0 0-1 0 1 2 0 0 1 1-1 1 1 1 0 1 1 0-1 1 1 3 0 0 1 4 0 1 2 0-1 1 0 1 1 0 1 1-1 1 1 1 0 1 1 0-1 1 1 1 1 0-1 1 0 0 2 0-1 2 0 0-1 0 1 1 1 1 1 3 0 0 1 1 0 0-1 1 0 0 2 1-1 1 1 0 1 1-1 0 1 1 0 0 1 0-1 1 1 0-1 1 1 1 0 0 1 1 0 0 1 1-2 0 2 1 0 1 1 1 0 1 1 1 1 2 0 0 1 2 0 0 1 1 0 0 1 1 0 0-2 0 2 1 0 0 1 2 0 0 1 1 0 0 1 2 0 0 1 3 0 0 1 2 0 0 2 0-1 1-40 1-1 1-1 1 0 1-1 2 0 0-1 1 0 1 2 0-1 1-1 0 1 1 0 0-1 1 0 0 1 0-1 1 1 3 0 0-2 1 2 1 1 1-1 1 0 0 1 2 0 0 1 1-1 0 1 3 0 1 1 0 1 1-1 1 1 1 0 0 1 1-1 3 0 0 1 0-1 1 1 1-1 0 1 2 0 0-1 1 1 0-1 1 1 0-1 0 1 1-1 2 0 0 1 1 0 1-1 0 1 3 0 0-1 2 0 0 1 1-1 1 0 1 1 0-1 3 0 0-1 0 1 1-2 0 1 1 0 0-1 1 1 2 0 1-1 0 2 0-1 1-1 0 1 2 0 0-1 0 1 2 0 0-1 1 1 1 0 0-1 0 1 1 0 0-1 1 1 2 0 0 1 1 1 0-1 0 1 2 0 0 1 2 0 0 1 0-1 1 0 0 1 1-1 0-1 1 0 1-1 0 1 0-1 1 0 1-1 0 1 0-1 2 0 1-1 0 1 1-1 2 0 1-1 0 1 0-1 1 0 0 1 0-1 1 1 2 0 0 2 1-1 0 1 1 0 1 1 0 1 1-1 0 1 1 2 0-1 1 1 1-1 5 0 1 1 0-1 1 0 0 1 1-1 0-1 1 1 0 1 1-1 0 1 1-2 0 1 0-1 1 0 0 1 1-1 2 0 1-1 2 0 0-1 2 0 0-2 0 1 1 1 0-1 1-1 0-1 1 1 0-1 1 1 1-2 1 0 0-1 1 0 1-1 1 0 0-1 1 1 0-1 1 1 0-1 2 0 1-1 2 0 0-1 2 0 1 1 0-2 1 0 0 2 0-1 1 0 1 1 0-1 1 0 1 1 0-1 1 1 0 1 1 0 1-1 0 1 2 0 1 1 1 0 0-1 1 1 3 0 0 1 1-1 0 1 1-1 1 0 0 1 0-1 1 1 1 0 0 1 2 0 1-1 0 2 1 1 0-1 1 0 0 1 1-1 0 2 1-1 0 1 2 0 0 1 0-1 1 2 0-1 2 0 1 1 0-1 1 1 0-1 1 1 1 0 0 1 1 0 0 1 1-1 0 1 3 0 1 1 1 1 0-1 2 0 0 2 1-2 0 1 1 0 0-1 1 1 1 0 0 1 0-1 1 0 0 2 1-1 0-1 1 1 1 0 0 1 1 0 0-1 1 1 1 0 0-1 1 1 1 0 0-1 1 1 1 1 0-1 0 1 1-1 0 1 1 1 0-1 1 0 1 1 0-1 2 0 0-1 1 2 0-1 1 0 0-1 1 1 1 0 0 1 2 0 0 1 1-1 1 0 0 1 1-1 1 0 1 1 1-1 0 1 1-1 1 0 1 1 2 0 0-1 2 0 0 1 1 0 1-1 0 1 0-1 1 1 1 0 0 1 1-1 1 0 0 3 1-3 0-3 1 5 0-1 1-1 1 3 0-2 0 2 1-3 0 5 1-4 1 0 0-1 0 1 1 0 0-1 1 1 0-1 0 1 1-1 0 1 1 0 0-1 1 1 0 1 1-1 0-1 1 0 0-2 1 2 0 1 0-1 2 0 1 1 0-2 1 2 0-1 1-1 0 3 0-1 2 0 0 2 1-2 1 1 0-1 0 1 1-1 0 1 1 0 1-2 0 1 2 0 0 1 0-1 1-1 1 2 0 1 0-1 1 0 0-1 1 0 1 1 0-2 1 2 0-1 1-2 0 1 1 1 1 0 0 1 1-2 0 1 1 0 0-1 1 2 0-1 1 1 0-2 0 1 1-2 1 2 1-1 0 1 1-1 0 1 0-1 1 1 1-1 0 1 1 1 0-1 1-3 0 1 1 2 0-2 1 2 0-1 1-1 0 2 0-1 1 0 0-4 1 3 0 1 1-1 1 0 0 1 1 2 0-3 1 0 0 1 1-1 0 3 1-3 0 2 1 0 0-2 0 1 1-2 0 2 1-1 0 2 1-5 0 2 1 2 0-1 1 0 1 1 0-3 1 2 0-1 1 2 0-3 0 3 1-2 0 1 1 0 0 2 1-1 0-1 1 0 1 1 0-2 0 2 1 0 0-1 1-1 0 1 1 1 1 0 1-2 0 3 1-1 0-1 1 0 0 1 1-1 1 0 0-1 1 0 0 2 1-2 0 2 1-1 1 1 0-1 1 1 0 1 1-2 0 2 1-1 0-2 0 2 1-1 0 2 1 3 0-3 1-1 1 2 0-1 1 0 0 2 1-4 0-1 0 4 1 1 0-2 1-1 0 1 1-1 0-2 0 2 1-1 1 0 0 3 0-3 1 2 0-3 1 2 0 1 1-1 1 4 0-4 0 2 1-3 0 2 1-1 0 2 0-1 1-3 0 3 1 0 0 1 1-4 0 7 1-5 0 1 1 0 0 1 1-1 1 0 0 2 1-2 0-1 1 1 0 1 1-1 0 1 1 1 0-2 1 2 1-1 1 1 0-1 1 0 0 2 1-3 0 3 0-1 1-1 0 1 1 1 0-4 1 3 0-1 1 0 0 1 0-2 1 2 1-1 0 2 1-1 0 4 0-7 1 10 0-6 1 1 0-1 0 2 1-3 0 1 1 0 0 1 0-1 1 3 0-3 1 1 0 3 1-2 0-2 1 1 0-8 0 8 1 2 0-2 1 2 1-1 0 1 0-2 1 1 0 2 1-1 0-2 1 1 0 1 1-1 0 1 1 1 0-3 1 1 0-4 0 5 1 2 0-3 1 1 0 3 1-3 0-1 0 6 1-8 0 2 1 2 0-3 0 4 1 0 1-4 0 2 0-1 1 3 0 1 1 4 0-6 1 3 0-4 1 0 0-3 1 2 0 2 1 2 0-6 1 7 0-6 1 7 0-3 1-4 0-2 0 2 1 1 0 4 1-1 0-2 0 1 1 4 0 1 1-3 0 3 0-1 1-6 0 5 1-3 0-1 0 2 1 13 0-14 1 2 0-1 1-4 0 5 0-4 1 4 0-6 1 4 0 6 1-9 0-2 1 9 0-6 0 2 1 0 0 1 1 2 0-4 1 6 0-3 1-2 1 4 0-5 1-3 0 1 1 7 0-3 1 6 0-3 1-4 0 1 1 9 0-10 1 6 0-3 1 6 0-10 1 8 0-5 0 5 1-4 0-2 1-2 0 12 1-7 0-1 1-1 0-1 1 0 0-2 1 3 0-4 1-8 0 15 0-5 1 2 1-3 0 3 1-4 0 5 1 0 0-1 1-3 0 4 1 3 1-6 0 2 1 2 0-3 1-2 0 11 0-10 1-1 0-6 1 11 0-8 0 1 1 6 0 2 1-2 0-4 0 2 1 1 0 2 1-2 0-1 1 0 1 4 0-2 1 13 0-16 1 3 0 2 1-4 0 4 0-4 1-8 0 5 1-1 0 1 1 4 0-5 1 5 0-10 0 4 1 7 0-1 1-3 0 1 1 5 0-4 0 1 1-6 1 5 0 1 1-2 0-2 1 0 0-1 0 1 1 6 0 1 1-5 0 5 1-7 1 2 0 3 0-2 1-1 0-5 1 10 1-3 0 7 0-6 1 1 0 4 1-7 0 2 1 2 0-3 1 2 0-3 1 5 0-7 1 1 0 1 0-3 1-3 0 3 1-1 0-1 1 0 0 6 0-4 1 3 0-5 1 7 0-2 1-2 0-1 1 5 0-7 1 7 1-4 0 6 0-5 1 15 0-8 1-1 0-3 1 0 1-3 1 1 0-5 0 2 1 1 0-2 1-7 0-1 0 11 1 2 0 3 1-8 0 21 0-19 1 3 1-1 0-6 0 6 1 1 0 2 0-5 1 2 0-8 0 6 1-2 0 7 1-7 0 9 1-8 0 3 0-2 1-4 0 6 1-4 0 5 0-8 1 5 0 5 1 3 0-9 0 7 1-1 0-1 1 3 0-4 1 17 0-21 1 5 0-2 1-2 0-3 0 7 1 0 0 5 1-9 0 4 0-1 1 3 0-7 1 1 0 6 0-14 1 11 0 3 1-9 0 19 1-11 0 1 1-15 0 11 1 6 0-8 1 2 0-2 1 6 0-6 1 3 1-2 1-4 0-3 1 5 0 6 0-16 1 11 0-1 1 9 0-7 0 4 1 2 0-7 1-7 0 11 0-1 1-2 0 4 1-3 0-8 1 2 1 2 0 4 1-9 0 14 0-8 1-3 0 7 1 0 0-2 0 1 1-3 0-5 1 6 0 1 0-4 1 6 0-8 1 11 0-6 1-3 0-14 0 19 1-1 0-5 1 0 0 4 0-1 1-5 0-5 1 12 0 8 0-12 1 8 0-6 1 12 0 3 0-3 1 6 0-7 1-1 0-2 0 2 1 1 0-20 1 16 0-2 1-1 0-5 0 2 1 1 0-11 1 5 0 11 1-10 0 2 0-1 1 11 0-12 1 14 0-14 1 10 0-18 0 18 1 0 0 1 1-8 0 9 0-5 1-5 0 5 1 4 0 3 1-4 0-8 0 3 1 7 0-7 1-15 0 18 1 1 1-9 0-4 0 9 1-5 0-6 1 7 0 3 0-1 1 7 0 1 1-3 0 6 1-4 0 8 1-7 0-1 1-2 0 5 0-12 1 0 0 3 1 5 0-11 0 13 1-3 0 4 1-1 0 6 0-17 1 11 0 2 1-2 0-1 0 1 1-8 0 4 1 2 0-5 1 3 0-3 0 4 1 3 0 4 0-3 1 1 0-9 0 2 1 4 0-3 1-19 0 17 1-1 0 2 1 1 0-4 0 8 1-15 0 12 1-1 0 1 0-24 1 24 0 1 1-5 0 10 1 1 0-18 0 20 1-11 0 7 1-4 0-6 0 3 1-5 0 14 1-8 0-6 1 5 0-4 1 5 0-5 1-9 0-7 1 22 0-2 1-11 0 10 0-14 1 8 0 3 1 1" stroke="#f00" stroke-width="3"/>
<path d="M386.5 1481.5l0-2 1-2 0-3 1-3 0-2 1-1 0-3 1-1 0-1 1-1 0-1 1-1 0-2 1-1 0-1 1-2 0-2 1-1 0-1 1 0 0-2 1-1 1-1 0-2 1 0 0-3 1-1 0-3 1-1 0-2 1-1 0-1 1-1 0-2 1-1 0-1 1-1 0-2 2 0 0-1 2 0 0-1 1 0 1-1 1 0 0-1 1 0 0-1 1 0 0-1 1-1 1-1 0-1 1 0 0-1 1 1 0-1 6 0 0-1 2 0 0-1 2 0 0-1 1 0 0-1 5 0 0 1 3 0 0-1 1 0 1-1 2 0 0-1 6 0 1 1 1 0 0 1 1 4 0 10 8 0 0-1 4 0 1-1 0 1 1-1 9 0 1-1 0 1 1 0 1-1 1 1 0-1 1 1 0-1 10 0 0-1 1 0 0 1 1 0 0-1 17 0 0-1 1 0 0 1 0-1 3 0 0-1 1 1 0-1 0 1 1-1 4 0 0-1 1 1 0-1 7 0 0 1 2 0 1 1 2 0 0 1 1 0 1 1 0-1 0 1 2 0 0 1 1 0 0-1 1 1 3 0 0-1 2 0 0-1 2 0 1-1 2 0 1-1 3 0 0-1 1 1 0-1 1 0 0 1 0-1 7 0 0 1 1 0 0-1 6 0 1 1 0-1 0 1 5 0 0 1 0-1 1 0 0 1 1-1 0 1 1 0 1-1 0 1 1-1 1 0 1 1 1-1 5 0 0 1 0-1 4 0 0 1 1-1 7 0 0-1 1 1 1-1 15 0 0-1 1 1 0-1 1 1 0-1 4 0 1 1 1-1 2 0 1 1 0-1 8 0 0 1 1-1 0 1 1-1 28 0 0 1 1-1 2 0 0 1 1 0 0-1 7 0 0 1 1-1 1 0 0 1 0-1 1 0 0 1 1-1 0 1 0-1 3 0 0 1 1-1 4 0 1 1 0-1 8 0 1 1 0-1 1 1 0-1 1 0 1 1 0-1 1 1 0-1 1 1 14 0 0-1 1 1 2 0 0-1 1 1 0-1 1 1 13 0 0-1 1 1 0-1 1 1 17 0 0-1 1 1 13 0 0-1 1 1 16 0 0 1 1-1 7 0 1 1 0-1 2 0 0 1 1-1 0 1 1-1 1 0 1 1 0-1 6 0 0-1 1 1 3 0 1 1 0-1 1 0 0 1 1-1 1 0 0 1 1 0 0-1 1 0 0 1 3 0 0-1 1 0 0 1 1 0 0-1 1 0 1 1 0-1 1 0 0 1 1-1 0 1 5 0 1-1 0 2 1-1 0 1 1-1 3 0 1 1 0-1 0 1 1-1 0 1 5 0 0-2 1-3 0-7 1-45 5 0 1-1 2 0 1 1 0-1 1 1 1 0 0-1 1 1 0-1 3 0 0 1 1 0 1-1 0 1 1-1 1 0 0 1 1 0 0-1 1 0 0 1 1 0 0-1 1 1 0-1 1 1 0-1 3 0 0 2 1-2 0 1 1-1 2 0 0 1 1-1 1 1 1 0 1-1 0 1 2 0 0-1 1 0 0 1 2 0 0-1 0 1 1-1 0 1 3 0 0-1 0 1 6 0 1 1 0-1 1 0 0 1 1-1 0 1 1 0 0 1 1 0 1 1 0-1 1 1 1 1 1-1 0 1 6 0 0 1 1 0 0-1 1 1 0-1 1 1 2 0 1 1 0-1 1 0 1 1 5 0 0 1 1 0 0-1 1 1 1 0 1-1 0 2 1-1 0 1 1 0 0-1 1 1 0-1 1 0 0 1 1-1 0 1 1 0 0-1 1 0 0 1 3 0 1-1 0 1 7 0 0 1 1-1 3 0 1 1 0-1 3 0 0 1 1 1 0-2 2 0 1 1 0-1 2 0 0 1 1-1 0 1 0-2 1 1 1 1 0-1 0 1 1 0 0-1 1 1 1-2 0 2 2 0 0 1 1-1 1 0 0-1 1 2 0-1 1 0 0-1 1 1 0-2 1 2 0-1 4 0 0 1 1 0 0-1 1 0 1 1 1-1 1 0 0 1 0-1 1 0 1 1 0-1 1 0 0-1 1 1 0 1 1-1 1-1 0 1 1 0 0 1 1-1 0 1 1-1 0-1 1 1 1-1 3 0 0 1 0-1 1 1 1 0 0-1 1 0 0 1 1 0 0 1 1-1 2 0 0-1 1 1 1 0 1-1 1 0 0 1 1 0 0-1 1 0 0 1 2 0 0-1 2 0 0 1 1-1 1 0 1-1 0 1 3 0 1 1 0-2 0 1 1-1 1 1 1-1 0 1 2 0 0-1 1 0 1 1 1-1 0 1 2 0 0-2 1 2 1-1 0 1 1-1 0 1 1-2 0 2 1-1 1 1 0-1 1 1 1-1 0 1 0-1 1 1 1 0 0-1 0 1 1 0 0-1 1 1 0-1 0 1 1-1 0 1 1 0 1-1 1 1 1-1 0 1 0-1 3 0 0-1 1 2 0-3 0 1 1 2 0-2 1 0 0 1 1-1 0 1 1-1 1 0 0 1 1-2 0 2 1-2 0 1 1 0 0 1 1 1 0-2 1 0 0 2 1-1 1 0 1-1 0 1 1-2 0 1 1 0 0 1 1-1 2 0 1 1 0 1 1-2 1 0 0 2 1-1 0-1 0 1 1 0 0-1 1 0 0 1 1 0 0-1 1 1 0-1 1 0 0 1 1-1 1 1 0-2 0 1 6 0 0 1 1-1 0-1 1 1 0-1 1 0 0-1 1 3 0-1 1-1 0 1 1-2 0 1 1 1 1 0 0-1 1 0 1 1 1 0 0-1 1 1 1-1 0 1 1 0 0-2 0 1 1 0 1 1 0-1 0 1 1-1 1-1 0 1 2 0 0-1 0 1 4 0 0-1 1 1 0-1 1 1 0-1 1 1 0-1 1 0 1 1 0-1 1 0 0 1 1-1 0 1 0-1 1 1 0-1 1 1 0-1 1 0 0 1 0-2 1 2 1 0 0-1 1-1 0 1 1 0 0-1 1 1 3 0 0-1 1 1 1 0 0-1 1 1 0-1 1 0 0 1 1 0 0-1 1 1 0-1 1 0 0 2 1-2 1 1 1-1 0 1 5 0 0-1 1 0 0 1 1-1 1 0 0 1 1 0 1-1 0 1 1-2 0 2 1 0 1-1 2 0 0 2 0-1 1-1 1 0 0 2 1-3 0 1 1 3 0-3 1 1 0-1 1 1 0-1 0 1 1 0 0-1 1-1 0 2 1-2 0-1 0 2 1-2 0 2 1-1 0 1 1 0 0-1 1 1 0-1 1 1 0-1 1 1 0-1 1 2 0-1 1-1 3 0 0 1 1-1 1 0 0 1 0-1 1 0 0 1 1 0 0-1 1-1 0 1 1 0 0-1 0 3 1-2 0 1 1-1 0 2 1-2 4 0 1 1 0-1 3 0 0-1 0 1 1-1 0 1 2 0 1 1 0-1 1 0 1-1 0 1 1 0 1-1 1 0 0 1 1 0 1-1 1 1 0-1 1 0 1 2 0-2 1-1 0 3 1-4 0 2 1-1 0 1 1-1 0 1 0-1 1 1 0-1 2 0 1 1 0-1 1 0 0-1 0 3 1-1 0 1 1-2 1 0 0 1 1-1 0 1 1-1 0-1 1 1 1 0 1-1 0 2 0-1 3 0 0-1 1 0 0 1 1-1 0 1 1-1 0 1 0-1 1 0 0 1 0-1 1 0 0 1 1-1 0 1 2 0 0-1 2 0 1 1 0-1 0 1 1-1 0 1 1 0 0-1 0 2 1-2 0 2 1-1 0-1 2 0 0-1 1 1 1-1 0 1 1-3 0 2 0-2 1 2 1 1 1-1 1 0 0 1 0-1 1 0 0 1 1 0 1 1 0-2 2 0 1-1 1 0 0-1 1 1 1 0 1-1 0 1 1 0 0-1 0 1 1-1 1 1 3 0 0 1 0-1 1 1 0-1 1-1 0 1 1 0 0-1 1 1 0-1 1 0 0 1 2 0 0-1 1 0 0-1 0 1 1 0 0 1 1-1 1 1 1-1 0 1 1 0 0-1 0 1 1 0 0-2 1 0 0 2 1-1 0 1 1 0 0-1 0 1 1-2 0 1 1 0 0 1 1-3 0 2 2 0 0 1 2 0 0-1 1 1 1-1 0 1 2 0 0-1 0 1 1 0 0-1 2 0 0 1 1 0 0-1 1 1 0-1 1 2 0-1 1-1 1 1 0-1 1 0 0 1 1-1 1 0 0 2 0-2 1-1 0 1 3 0 0 1 1 0 0-2 0 1 2 0 0 1 0-1 1 0 0 1 1-1 0 1 1-1 1 0 0 1 1 0 0-1 2 0 1 1 0-1 1 0 0 1 1 2 0-2 1 0 0-1 0 1 1 0 0-1 1-1 0 1 1 0 0-1 1 0 0 1 1 1 0-2 1 1 1-1 0 1 1-1 0 1 1 0 0-1 1 1 0-1 1 0 0 1 0-1 2 0 0-1 0 1 1 0 0-1 1 2 0-2 1 1 0 1 1 0 0-1 1 0 0 1 1-1 1-1 0 1 1 0 0-1 1 1 0-1 0 2 1-1 1 0 0 2 0-3 1 1 0-1 1 1 0-1 1 2 0-2 0 1 1-1 0 1 1-1 3 0 0-1 1 1 1 0 0 1 1-1 0 1 1-1 0 1 1 0 1-1 0 1 1 0 0-1 1 0 0 1 1 0 0-1 3 0 0-1 0 1 1 0 0-1 1 0 0 1 1 0 0-2 1 1 1 0 0 1 1-1 0 1 1 0 0-1 1 0 0-1 1 1 4 0 1 1 0-1 2 0 0-1 0 1 2 0 0 1 0-1 1 1 0-1 1 0 1-1 0 1 4 0 0-1 1-2 0 3 1-1 0-1 0 1 4 0 0-1 1 0 0 1 1 0 0-1 1 1 3 0 1 1 1-1 0 2 1-3 0-1 1 1 1 1 0-1 1 1 2 0 0-1 1 1 0-1 1 0 1-1 0 2 1-1 0-1 0 1 1 0 0-1 1 1 0 1 1 0 0-1 2 0 1 1 0-1 1 1 0-1 1 1 0-1 2 0 0-1 3 0 0-1 0 1 1 0 1 1 1-1 0 1 1-1 1 1 0-2 1 2 1-1 0 1 0-2 1 1 0-1 1 1 1 0 0-1 1 0 0 1 1-1 1 0 0 3 1-3 0-1 0 1 1 0 0 1 1-1 0 3 1-3 0 1 1 0 0-1 0 1 1-1 3 0 0-1 3 0 0-2 1 2 0 1 1 0 0-1 1 0 1 1 0-1 1 0 0-3 1 2 3 0 0 1 1-2 0 1 1 0 0-1 0 1 1 0 1 1 0-1 1-1 0 1 1 0 0-1 0 1 1-1 0 2 1-1 0-2 0 2 3 0 0-1 0 1 1 0 0-1 1 0 0 1 0-1 1 1 0-1 1 0 0 1 1 1 0-1 1-1 0 1 0-1 1-1 0 1 1 0 0-1 1 0 0 1 0-1 1 0 0 1 1-1 0-1 0 1 2 0 0 1 0-1 1 0 0-1 1 0 0 1 0-1 1 0 0 1 1-1 0 1 1-1 1 1 1-1 0 1 1-1 3 0 0-2 1 2 1-1 0 1 3 0 1 1 0-1 1 1 0-2 1 1 0-1 1 1 0-1 1 0 0 1 1-1 0 1 1-1 0 2 1-2 3 0 1-2 0 2 1-1 0 1 1 1 0-1 1 0 1 1 0-1 1 0 0-1 0 1 2 0 0-1 2 0 0 1 1-2 0 2 0-1 1 1 1-1 0 2 0-2 1 0 1 2 0-2 0 1 1-2 0 1 4 0 0 1 1 0 1-1 1 0 1-1 0 1 2 0 0-1 0 1 2 0 0-1 0 1 2 0 1 1 0-2 1 1 0-1 1 2 0-2 1 1 1-1 1 1 0-3 1 1 0 2 2 0 0-1 1 0 0 1 1-1 0-1 1 1 0 1 0-1 2 0 0 1 0-1 2 0 0-1 0 1 1 2 0-3 1 0 0-1 1 1 1 0 0 1 1-1 0 1 1 0 0 1 1-1 1 0 1-1 0 1 0-1 1 1 1 0 0-1 0 1 1-1 0 1 1-1 0 1 1 0 0-1 0 1 1 0 1-2 0 2 1-1 0-1 1 2 0 2 0-3 2 0 0-1 0 1 1 0 0-1 1 1 1 0 0-1 1 0 0 1 1 0 0-1 1 1 0-1 1 1 0-1 1 0 1 3 0-3 1 0 1-1 0 1 1-1 1 1 0-1 1 0 0-1 1 2 0-2 1 0 0 1 1-1 0 1 1 0 0-1 1 0 0 1 1 0 0 1 1-1 1 0 0 1 1-1 0 1 1 1 0-1 0 1 1-1 1 0 1 1 0 1 0-1 2 0 0 1 1-1 0 1 1-1 0 1 1-1 0 1 1 0 0 1 1-1 1 2 0-3 0 1 1 2 0-1 1 0 0-1 1 1 1 0 0 1 1-1 0 1 0-1 1-1 0 2 1 0 0-1 1 1 1-1 0 1 1 0 0-1 1 0 0 2 0-1 1 0 0 1 1 0 1-1 0 2 1-1 0-1 1 0 0-1 1 2 0-1 1-1 0 1 1 1 0-1 1 1 2 0 0-1 1-1 0 1 0-3 1 3 1-2 0 1 1-1 0 1 1-1 0 1 1-2 0 2 1-1 2 0 0-1 1 0 0 1 1-1 0 1 1-2 0 2 1 0 1 1 0-2 0 1 1 0 1 1 0-1 1 1 0-1 1 1 0 1 0-1 3 0 0 1 1-1 1 0 0-1 2 0 1-2 0 2 1-1 0-1 0 1 1-2 0 1 1 0 1-1 0 1 1-2 0 2 1-2 0 1 1-1 0 1 1-2 0 2 0-1 2 0 0 2 1-2 0 1 1-1 0 1 1-1 0-1 1 2 0-1 3 0 0 1 0-1 1 3 0-1 1-1 0 1 1 0 0 1 1 0 0-1 1 1 0 1 0-1 1 1 0 1 0-1 1 0 1 1 0-1 0 1 1 0 1-2 0 2 1 0 0-1 1 0 1 1 0-1 0 1 0-3 1 2 1 1 0-1 1-1 2 0 1-1 0 1 1-1 0 1 0-2 1 2 0-1 1-1 0 1 1 0 0-2 1 1 0-1 1-1 0 1 1-1 0 1 1 0 0-1 0 1 1-1 0-1 1-1 0 1 1-1 1-1 1 0 0-1 1 1 0-1 1-1 0 1 1-3 0 2 1 0 0-1 1 0 0-1 0 1 1 0 1-1 0 1 1-1 0 1 1 0 0-1 1 1 0-1 0 1 1 0 0-1 1-1 0 2 0-1 1 0 1-1 0 1 0-1 1 1 0-1 1 1 0 2 0-2 1-2 0 1 2 0 0 1 1 0 1-1 0 2 0-1 1 0 0 1 1-1 0 1 1-1 0 1 1 1 0-1 1 1 0-1 1 1 0-1 0 2 1-1 0 1 1 0 0-1 1 1 0 1 1-1 0 1 1-1 0 1 0-1 1 0 0 3 1-2 1 0 0 1 1-2 0 1 1-1 0 1 1-1 0 2 0-1 2 0 0 2 1 1 0-3 0 1 1 1 1 0 0 2 1-1 1 0 0-1 1 1 0 1 1-1 0 1 0-1 1 2 1-1 0 1 1 0 0-1 0 1 1-1 1 1 0 1 1-1 0 2 1-2 0 1 1 0 1 1 0 1 0-2 1 1 1 0 0 2 0-1 1 1 0-1 1 0 1 1 0-1 1 1 1-1 0 4 0-2 1-1 0 1 1-1 1 0 0 1 1-1 0 1 0-2 1 4 0-3 1 0 0 1 1 0 0-1 1 1 1 1 0-1 1 1 1-2 0 2 1 0 0 1 1-1 0-1 0 1 1 1 0-1 1 0 0 1 1-1 0-1 1 1 1-1 1 0 1 1 1 1 0-1 1 0 0 1 2 0 1 1 0-3 1 2 2 0 0-1 1 1 0-1 0 1 1-1 0 1 1 0 0-2 0 2 1-1 0 1 1-1 0 1 1-1 1 0 0-1 1 1 1 0 0 1 0-1 2 0 0 2 1-1 0-1 1 1 0-1 1 0 0 1 1 1 0-1 1 0 0 1 0-1 1-1 0 1 1-1 0 1 0-2 1 2 1-2 0 2 1 0 0-2 0 3 1-3 0 2 1 0 0-1 1-1 0 2 1-1 0 1 1 2 0-3 1 1 0 1 0-6 1 5 0-2 1 2 0-2 2 0 1 1 1 0 0-1 1 0 0-1 0 1 1-1 0 2 1-1 0-1 1 0 0 2 1 0 0-2 1 1 1 2 0-3 0 1 1 0 1-1 1 4 0-4 1-1 0 2 1 1 0-3 0 5 1-4 0-1 1 1 0-2 0 3 1-1 0 1 1 0 0-2 0 2 1-2 0 3 1-2 1-1 0 2 1-1 1 0 0 1 1-2 0 2 1-1 0 1 1 0 0-2 1 2 0 5 0-5 1 0 0-1 1-2 0 2 1 0 0-1 1 1 0-2 1 1 0 1 1-2 0-2 1 3 0 1 1-3 0 2 1-2 0 4 0-5 1 1 0 1 1 1 0-1 1-2 0 2 1 3 0-3 1-1 0-1 1 2 0-3 1 3 0-2 1 2 0-4 1 4 0-4 1 1 1 1 1-2 1 3 0-3 1 2 0-1 1-1 0 1 1 1 0-3 1 3 0-4 1 2 0-3 1 2 0 2 1-2 0-1 1 2 0-2 1 0 0 4 0-3 1-2 0 3 1 3 0-3 1 1 1-1 0-1 1 0 0 1 1-1 0 2 1-3 0-1 0 1 1 3 0-5 1-2 0 5 1-1 0 1 1-1 0 2 0-4 1 2 0 4 1-8 0 12 1-6 0 2 0-4 1 2 0 1 1-2 0 2 0-1 1 1 0 1 1-5 0-1 0 3 1 0 1 4 0-4 1 0 0 2 1 1 0-2 0 2 1-2 0-1 1 1 0-1 1-5 0 8 1-3 0 1 1-4 0-1 0 5 1-1 0 3 1-2 0 2 0-1 1-3 0 2 1 1 0-1 0 1 1-2 0 5 1-1 0 2 0-5 1 2 0 1 1-1 0 1 1-1 0 1 0-2 1 2 0 1 1-5 0 1 0-1 1 6 0-3 1 2 0 1 0-2 1 0 0 2 1-5 0 4 1-1 0 3 1-3 0-1 1-4 0 5 0-1 1-1 0 5 1 0 0-5 1 1 0 3 1-1 0-2 0 2 1 4 0-4 1-4 0 6 1-4 0 2 1 1 0-2 0 3 1 3 0-4 1 4 0-8 1 5 0-4 0 3 1-5 0 5 1-2 0-2 0 3 1-3 1 0 0 2 1 0 0-2 1 4 0-3 1 4 0-3 1 1 0 7 0-5 1-4 0 4 1-2 0 1 1 1 1-3 0 6 1 0 0-8 0 6 1 2 0-3 1-1 0 1 0-2 1-1 0 4 1-2 0 6 0-5 0 3 1-3 0 3 1-5 0 5 1-5 0 9 0-4 1 2 0-7 1 6 0-1 1-1 0-4 1 4 0 1 0-3 1-2 1 4 0-1 1 6 0-9 1 1 0 2 0-3 1 0 0-3 1 2 0-1 1 4 0-3 0 3 1 1 0-5 1-3 0 5 1 1 0 1 1-1 0-1 1-1 0-4 1 5 0-3 1 9 0-8 1 1 0-4 1 4 0-1 1-4 0 5 1-8 0 8 0-6 1-2 0 8 1 0 0-2 1 0 0-1 1 2 0 7 1-7 0 2 1 4 0 7 0-9 1 2 0-2 1 7 0-7 1 2 0-3 1 1 0-2 1 1 0-3 0 1 1-4 0 3 1-2 0-5 0 3 1-3 0 13 1-8 0 7 1-9 0 7 1 0 0-3 0 5 1-5 0 6 1-4 1 13 0-18 1 0 0 2 1 8 0-9 1 4 0-4 1 3 0 5 0-4 1 1 0 2 1 0 0-7 1 4 0 3 1-2 0-8 0 8 1-3 0-4 1 1 1-5 0 9 0-13 1 8 0 3 1-2 0 4 1-11 0 10 1-2 0 1 1-2 0 1 1 8 0-4 1-1 0 3 1-5 0-1 1-10 0 6 1 2 0 3 1-3 0-1 0 2 1 2 0-3 1 4 0-1 1 12 0-5 1-2 0-3 0 2 1-5 0 1 1 4 0-4 1 6 0-7 1 2 1-2 0-5 0 6 1 0 0 2 1-2 0-5 0 2 1 1 0 9 1-6 0-2 1 1 0 6 1-7 0-5 0 10 1-5 1 8 0-9 1-4 0 6 1-4 1 10 0-5 0 3 1-11 0 13 1-11 0 10 0-4 1-6 0 13 1-6 0 5 1-2 0-12 1 9 0-2 0 3 1 1 0-3 1 0 0 3 0-12 1 7 0-11 1 4 0 10 1-9 0 13 1-3 0-8 1 5 0-7 1 6 1-5 0 10 1-6 0-1 1 0 0 6 0-5 1 5 0-17 1 11 0 2 1-1 0-4 0 6 1-6 0 6 1-6 0 5 1 9 0-15 1 8 0-1 0 1 1-2 0-4 1 29 0-30 1 15 0-15 0 2 1 0 0 3 1-1 0-4 1 9 0-3 1 4 0 2 0-1 1-11 1 8 0-10 0 4 1-4 0 2 1 8 0 1 0-2 1 4 0-10 1-5 0 10 1-2 0 2 1-7 0 3 1 2 0 8 0-6 1 18 0-18 1 2 0-18 1 11 0 5 1-13 0 17 1-6 0-5 1 3 0-5 0 14 1-18 0 8 1 3 0-6 1 9 0-4 1-5 0-2 1 10 0-6 1 25 0-19 1-7 0 17 1-15 0-3 1 2 0-2 0 2 1-6 0-3 1 11 0 16 0-16 1-6 0 8 1 2 0-1 0 7 1-19 0 14 1 1 0 1 1 3 0-4 0 2 1 2 0 1 1-1 0-5 0 1 1-9 0 10 1-14 0 12 1-8 0-1 1-3 0 6 1-4 0 11 1-3 1-8 0 12 0-1 1 4 0 3 1-7 0-1 1 2 0-4 1 3 0 21 1-19 0-2 1 3 0-6 1 6 0 1 1-1 0-2 0 2 1-4 0 12 1-13 0-8 1 22 0-12 1 8 0-15 1-3 0 5 0-2 1-8 0 19 1-5 0-3 0 3 1-11 0 7 1 3 0-9 1 15 0 20 1-27 0-1 0 7 1-11 0-5 1 3 0 2 1 6 0-10 0 5 1-2 0-2 1 5 0-3 0 13 1-10 0 1 1 0 0 10 0-8 1 8 0-14 1 17 0-20 1 3 0 4 1 2 0-14 1 2 0 8 0-7 1 10 0-15 1 12 0 2 1-12 0 16 1 4 0-12 0 15 1-11 0 6 1-5 0-3 0 12 1-8 1 1 0 4 0-9 1-1 0-5 1 0 0-5 1 19 0-8 1 6 0-9 1 13 0-12 0 13 1-14 0 5 1-1 0 3 0-18 1 14 0-9 1 1 0 12 1-9 1 3 0 7 1 0 0 6 1-4 0-5 1-9 0-1 0 11 1-7 0-1 1 5 0 7 0-3 1-5 0-1 1 13 0-14 0 17 1-8 0 6 1-14 0 18 1-7 0 5 1-9 1 0 0 17 0-10" stroke="#00f" stroke-width="3"/>
<path d="M386.5 1493.5l1 0 0-1 1 0 0 1 5 0 1-1 0 1 5 0 1-1 0-74 1-13 0-2 1-1 1-1 0 1 0-1 1 0 0 2 0-1 3 0 0 1 1 1 1 2 1 0 1-1 0 1 0-2 1 2 0-1 1 0 1 1 0 2 3 0 1-1 0 1 2 0 0-1 0 1 1-1 0 1 1 0 0 1 1 0 0 1 1 0 0 1 0-1 1 1 1 0 1 1 0-1 1 1 1-1 0 1 1 1 1 0 0 1 1 0 0-1 1 2 0-1 1 1 1 1 1 0 0-1 1 1 0 1 1 0 0-1 1 1 1 0 0 1 1 0 1 1 1 0 1 2 0 1 1 1 1 1 2 0 1 1 0-1 1 0 0 28 1 8 0 1 1 0 1-1 0 1 1-1 0 1 16 0 0-1 0 1 14 0 0-1 1 1 1 0 1-1 0 1 1 0 1-1 0 1 4 0 0 1 1-1 2 0 1-1 0 1 1-1 0 1 1 0 0-1 0 1 1-1 0 1 1-1 1 0 0 1 1-1 4 0 0-1 1 1 0-1 0 1 1-1 1 0 0 1 0-1 3 0 1-1 0 1 1-1 1 0 0 1 1-1 1 1 0-1 3 0 0-1 2 0 1 1 0-1 2 0 0 1 0-1 1 1 5 0 0 1 1-1 0 1 1-1 1 1 4 0 0-1 2 0 0-1 1 1 0-1 0 1 1-1 1 0 1-1 0 1 1 0 0-1 3 0 0-1 1 1 0-1 2 0 1-1 1 0 0 1 1-1 0 1 1-1 5 0 1 1 3 0 0 1 1 0 1 1 2 0 0 1 3 0 0 1 3 0 1 1 2 0 0 1 1-1 0 1 1-1 0 1 1 0 0-1 0 1 5 0 0 1 1-1 0 1 1-1 2 0 0 1 2 0 0-1 0 1 1-1 0 1 1 0 1-1 1 0 1 1 0-1 0 1 1 0 0-1 1 1 1 0 0-1 2 0 0 1 1 0 0-1 0 1 1-1 1 1 1-1 1 1 3 0 0-1 1 0 0 1 1-1 1 1 0-1 1 0 1 1 0-1 14 0 1-1 0 1 0-1 2 0 1-1 0 1 3 0 1 1 0-1 5 0 1-1 0 1 1-1 0 1 1 0 0-1 1 1 1 0 0-1 1 1 0-1 1 1 0-1 1 1 0-1 8 0 0-1 1 1 5 0 0-1 1 1 2 0 0-1 4 0 0 1 1-1 0 1 0-1 9 0 0-1 0 1 1-1 0 1 3 0 0-1 1 0 0 1 1 0 0-1 1 0 1 1 0-1 4 0 0-1 1 1 0-1 1 1 1 0 1-1 0 1 1-1 3 0 0-1 0 1 5 0 1-1 0 1 1-1 0 1 1-1 0 1 1-1 0 1 0-1 1 1 0-1 2 0 0 1 1-1 2 0 0 1 1-1 1 1 0-1 6 0 0-1 1 1 2 0 0-1 1 0 0 1 1-1 1 0 0 1 1-1 4 0 0-1 1 1 2 0 0-1 0 1 2 0 1-1 0 1 0-1 3 0 1 1 0-1 0 1 1-1 5 0 0-1 1 1 2 0 0-1 1 0 0 1 1-1 0 1 0-1 1 1 0-1 1 0 1 1 0-1 1 0 1 1 0-1 7 0 0 1 1-1 4 0 0-1 1 1 0-1 1 1 1 0 0-1 1 0 1-1 0 1 1 1 0-1 1 1 0-1 1 0 0 1 1-1 1 1 0-1 1 0 1 1 0-1 0 1 1 0 0-1 5 0 0 1 0-1 1 0 1-1 0 1 3 0 0-1 0 1 1 0 0-1 1 0 0 1 0-1 1 1 1 0 0-1 3 0 0-1 1 1 3 0 0-1 1 0 1 1 0-1 0 1 1-1 0 1 1 0 0-1 3 0 0 1 1-2 0 1 5 0 0 1 1-1 1 0 0 1 1-1 4 0 0 1 1 0 0-1 1 1 0 1 0-1 7 0 0-1 1 1 1-1 0 1 0-1 2 0 0-1 1 1 0-2 1-1 0-5 1-1 0-13 1 1 0-1 1 0 0 1 8 0 0 1 1-1 1 0 1 1 0-1 0 1 2 0 0-1 1 1 1 0 0 1 1 0 0-1 1 1 0-1 1 1 0-1 1 0 0 1 1 0 0-1 0 1 2 0 0-1 0 1 2 0 0-1 0 1 2 0 0 1 0-1 1 0 0 1 1-1 0-1 1 1 1 0 1-1 0 1 1 0 0 1 2 0 1-1 0 1 0-1 1 0 0 1 1 0 0-1 1 0 0 1 0-1 1 1 1-1 0 1 2 0 0 1 0-1 2 0 0 1 0-1 1 0 0 1 1-1 0 1 1-1 1 0 0 1 1-1 0 1 1-1 0 2 1-1 2 0 0 1 3 0 1 2 0-2 1 2 0-1 1 0 0 1 1-1 0 1 2 0 0-1 1 1 1 1 0-1 1 0 1 1 1-1 1-1 0 1 1 0 0 1 1-1 1 1 1-1 0 1 1 0 0-1 1 0 1 1 0-1 1 1 0 1 1-2 1 0 0 1 1-1 0 1 1-1 0 1 2 0 0-1 0 1 2 0 0 1 0-1 1 0 0 1 1-1 0-1 0 1 1 0 1-1 0 2 0-1 1 0 0 2 1-2 0-1 1 1 2 0 0-1 0 1 3 0 1-1 0 1 7 0 0-1 0 1 1 0 1 1 0-1 2 0 1 1 1-1 1 0 0-1 1 2 1-1 2 0 0 1 0-1 1 0 0-1 1 1 1 0 0-1 1 1 0-1 0 1 1-1 0 1 1 0 0-2 1 2 1-1 0 2 1-1 0-1 0 1 2 0 0-1 1 1 0-1 1 0 0 1 0-1 1 0 0 1 1 0 0-1 1 1 1-1 0 1 1 0 0-1 2 0 0 2 1-2 0 1 1-1 0 1 1-1 0 1 1-1 1 2 1-2 1-1 0 2 1 1 0-2 1 3 0-3 2 0 0 1 1-1 1 0 0 1 1 0 0-1 3 0 0-1 0 1 3 0 1 1 1 0 0-1 1-1 0 1 1 1 0-2 1 1 1 1 0-1 0 1 1-1 0-1 1 1 1 0 1 1 1-2 0 1 2 0 0 1 0-1 2 0 1-1 1 0 0 1 1 1 0-1 2 0 0 1 0-2 1 1 0 1 1-1 0 1 0-1 1 0 0 2 1-3 0 2 0-1 1 1 0-1 3 0 1-1 1 0 0 1 2 0 1-1 0 1 2 0 0-1 0 1 1 1 0-1 2 0 0 1 1 1 0-2 4 0 1-1 0-1 0 2 1-1 0 1 1 1 0-1 2 0 0-1 1 1 3 0 0-1 1 1 2 0 0 2 1-3 0 1 2 0 1-1 0 1 0-1 1 1 0-3 1 2 1 1 0 1 1-2 1 1 1 0 0 1 1-1 1-1 0 1 1 0 0 1 0-2 1 0 0 1 1 0 0-1 1 1 0-1 1 0 1 1 1 0 0-1 1 1 2 0 0 1 1-1 1 1 0-1 0 1 1-1 0-1 1 1 0-1 1 1 0-3 1 3 2 0 1-1 1 0 1 1 0-1 0 1 1 0 0-1 1 1 0 1 1 0 0-1 1-2 0 2 1-3 0 3 0-1 1 1 0-1 1 1 0-2 1 1 1 1 1 0 0-1 1 1 1 0 0-1 1 0 0 1 1 0 0-1 1 1 1-1 0 1 2 0 0 1 1-2 0 1 4 0 0-1 1 1 0-1 1 0 0 1 0-1 1 0 0-1 1 2 0-1 1 0 0 1 1-1 0 1 1 1 0-2 1 1 0-1 1 0 1 1 0-1 1 1 2 0 0-1 1 1 0 2 1-2 1 0 0-1 1 0 0 1 0-2 1 3 0-2 1 1 0-1 0 1 1 0 1-1 0 1 1 0 0-1 1 1 0-1 1 0 1 2 0-2 1 1 0-1 2 0 0 1 0-1 1 0 0 1 1 0 0-1 1 0 0 1 2 0 0-1 1-1 0 2 1-1 0 1 1 0 0-1 1 0 0 1 2 0 1-1 1 2 0-2 0 1 1 0 0-1 1 0 0 1 1-1 1 0 1 1 0-1 0 1 1-1 0 1 3 0 0-2 1 0 0 2 1-2 0 1 1 0 0-1 0 1 1-1 0 1 1 1 0 1 0-2 2 0 0 1 1-1 1 1 0-1 1 0 0 1 1 0 0-1 1 0 0 1 1-1 1 0 0 1 0-1 1 1 0 1 1-1 1-1 1 1 0-1 1 1 1 0 0-1 1 0 0 1 1-1 0 1 1-1 0 1 1-1 1 0 1 1 0-1 2 0 0 1 1 0 0-1 0 1 1-1 1 1 0-1 1 1 1-1 0 1 1-1 0 1 0-1 1 1 1 0 0-1 1 0 1 1 0-1 1 0 1 1 0-1 1 1 0-1 1 0 0-1 1 1 0-1 1 1 0 2 1-2 0 1 1-1 1 0 0 1 0-1 1 1 0-1 1 1 0-1 1 0 0 1 1 1 0-1 2 0 0-1 1-1 0 2 1 2 0-3 1 1 0-1 0 1 1 0 0-1 1 0 0 1 1-1 0 1 1 0 0-1 1 1 1-1 1 1 1 0 0-1 1 2 0-2 1 1 0-1 1 0 1-2 0 1 1 1 2 0 0 1 2 0 0 1 1-1 0-1 1 1 1 0 0-1 0 1 2 0 0-1 1 1 1 0 0 1 1 0 0-1 1 0 0 1 0-1 1 1 1 1 0-2 0 1 3 0 0 1 0-1 1-1 0 2 1-1 0-1 0 1 3 0 0-1 1 0 0-1 1 0 0 1 1-4 0 3 1 0 0 1 1-1 0 1 2 0 0 1 1-1 0 1 1-1 0-1 1 1 0 1 1-1 2 0 1 1 0-2 1 1 0 1 1-1 0 1 1-1 1 1 0-1 1 0 0 1 1-1 0 1 1 0 0-1 1 1 0-1 1 0 0 1 0-1 1 0 0 1 1 0 0-1 1 0 0 1 1-1 1 0 0-1 1 1 1 0 0-1 0 1 1 0 0-1 1 2 0-1 3 0 0 1 1-1 1 0 0 1 1-1 0 1 1-1 2 0 0-2 0 2 1 0 0 1 1-2 0 1 1 1 0-1 1 1 0-2 1 1 1 2 0-3 1 2 0-1 3 0 0 1 1-1 0-1 1 3 0-2 2 0 0-1 1 1 0-1 1 1 1-1 1 1 0 2 0-2 1 0 0 1 1-2 0 1 1-1 1 0 1 1 0-1 1 1 1-1 1 1 0-1 1 0 0 1 0-1 1 0 1 1 0-1 1 1 1-1 0 1 1-1 1 0 0-1 1 1 1 0 0 1 1-2 0 1 2 0 0 1 1-1 0 2 1-1 0-1 1 0 1 1 0-1 0 1 1-1 0 1 1 0 1-1 0 1 1-1 1 0 0 1 0-1 1 0 0 1 1-1 0 1 1 0 1-3 0 2 2 0 1 1 0-1 1 0 0-2 1 2 1 1 1 0 0-1 1 1 0-1 3 0 0 2 0-1 1 0 0-1 1 0 0 1 1-2 0 1 1 0 1 2 0-2 0 1 1-1 0 1 1 1 0-3 1 1 0 1 1-1 0-2 1 2 0 1 1-1 1 0 1 1 0-1 0 1 1-2 0 2 1-1 1 0 0 1 1 0 0-1 1 0 1 1 0-1 2 0 1 1 0-1 1 1 0-1 1 1 1-1 1 1 0-1 1 0 0 1 1 0 0-1 1 1 0-1 0 1 1-1 0 1 1-1 0-1 1 1 0 1 1-1 1 0 1-1 0 1 1 0 1-1 0 1 1 0 0-1 1 1 1 0 0-1 1 0 0 1 2 0 0 1 1-1 1-1 0 1 1-1 0 1 1 0 0 2 0-2 1 1 1-1 3 0 1 1 0-1 1 1 0-2 1 1 0-1 1 1 1-1 0 1 1 0 0-1 0 3 1-3 0 2 1-1 1 0 1-1 0 1 2 0 0-1 0 1 1 0 0-1 1 0 0 1 1 0 0-1 0 1 2 0 0-1 1 1 1 0 0 1 0-1 1 0 0-1 1 1 0 1 0-2 1 2 0-1 1 0 0-1 0 1 1-1 0 1 1 0 1-1 0 1 1-1 0 1 1 0 0-1 1 1 1 0 0-1 0 1 1 0 0-1 1 1 1 0 1-1 0 1 1 0 1-1 0 1 1-1 0 1 1 0 1 1 0-1 0 1 1-1 0-1 1 1 0-1 1 1 1 0 0-1 0 1 1 1 0-2 1 1 0 1 1-1 1 0 1-1 0 2 1-1 1-1 0 1 1 0 0-1 1 1 0 1 1-1 1 0 0 2 1-2 1 0 0 1 1-1 0 1 0-1 1 0 0 1 1-2 0 1 1-1 1 1 0-2 0 1 1 0 0 1 1 0 0-1 0 1 1 0 1-1 0 2 1-1 1 1 0-1 1 0 0-2 0 3 1-1 1 0 1 1 0-1 3 0 0 1 0-1 3 0 1 1 0-2 1 0 0 1 1 0 0-1 1 2 0-1 2 0 1-1 0 1 1 0 0 1 1-1 1-1 0 1 1 0 0-2 1 2 0 1 0-1 1-1 0 1 0-1 1 1 0 1 1-3 0 1 1 0 1 1 0-1 0 1 1 0 0-1 1-1 0 1 1 0 1-1 1 0 0 1 0-1 1 1 1-3 0 3 1 0 0-1 1 1 1 0 0-1 1 1 0 1 0-1 1-1 0 1 1-1 0 2 1 0 0-1 1 0 0 2 1-1 1-1 0 1 2 0 1-1 0 1 2 0 0 2 0-2 1 1 0-2 1 0 0 1 5 0 0-1 1 1 1 0 0 1 0-1 2 0 0-1 1 1 0-1 1 1 1-1 0-2 0 4 1-2 0 1 1 0 0-2 1 1 0 1 1-1 1 0 0-1 1 1 1 0 1 1 0-1 1-1 0 2 1 0 0-1 1 0 1 1 0 1 1-1 0-1 1 0 0 1 1-1 0 1 1 0 1-1 0 1 1-1 1 1 0-1 1 2 0-2 1 0 1-1 0 1 1-1 1-1 0 2 1-1 0 1 2 0 1-1 0-1 1 1 0 2 1-1 0 1 1-1 0-1 0 1 1 0 0-1 0 1 1 0 0-1 0 1 1 0 0-1 1 1 0-1 1 0 0 1 1-1 0-1 1 2 0-1 1-1 2 0 0-1 1 1 1-1 1 1 1-1 1 0 0 1 0-1 1 0 0 1 1-1 0 1 1-1 2 0 0-1 0 1 1 0 0 1 1-1 0-1 0 1 2 0 0 1 0-2 1 1 0 1 1 0 0-1 0 1 1 0 0 1 1-1 0 1 1-1 0 1 0-1 1 0 0 1 1 0 1 1 1 0 1-1 0 1 1 1 0-1 1 0 1 1 0-2 0 2 1-1 2 0 1 1 0-1 1 1 1 1 0-1 1 1 1-1 0 1 1 0 0-1 0 1 1-1 0 1 1-2 0 1 1 0 1-1 1 0 0 1 0-1 1 2 0-3 1 2 0 1 1-2 0 2 1-2 0 2 1-1 0 1 1-1 0 1 0-1 1 1 1-2 0 2 0-1 1 1 0-1 1 0 0 1 1 0 0-1 2 0 0 1 0-1 1 0 0-1 2 0 1-1 1 0 0-1 1 0 0 1 1-1 0 1 0-1 1 0 1 1 0-1 1 1 0-1 1 0 0 1 0-1 1 1 1-1 1-1 1 1 0 1 0-1 2 0 0 1 1 0 0-1 1 1 1 0 0-1 0 1 1 0 1 1 0 1 0-1 1 0 0 1 1-2 0 2 0-1 1 1 1-1 0-2 1 2 0 1 0-2 0 2 1-2 0 3 1-2 0 1 0-1 1 1 0-1 1-1 0 2 0-2 1 0 0 1 1-2 0 1 1-1 0 2 1-3 0 1 1 0 0-1 1 0 0-1 1 0 0 1 1-1 1-1 0 1 1-1 0 1 1 0 1 1 0-1 1 1 1 0 0 1 1-1 0 1 1-1 0 2 1-1 0 1 1 0 0 1 1 0 1 1 0-1 0 1 1-1 1 1 0 1 0-1 1 0 1 1 0-1 1-1 0 1 1-1 0 1 1 0 0-1 2 0 0-1 2 0 0 1 1-1 1 0 0-1 1 0 0-1 1 1 0-2 1 0 0 1 1-1 2 0 1-1 0 1 0-2 1 1 1 0 0-1 1 0 0 1 1 0 0-2 0 1 1-1 1 0 0 1 0-1 1 0 0-1 1 1 0-1 1 1 0-1 0 1 1 0 0-1 1 0 0 3 1-3 1 0 0-1 1 1 0-1 1 1 1 0 0-2 1 1 0-1 1 2 0-2 0 1 1 0 0 1 1 0 0-1 1 1 0-1 1 1 0-2 0 2 1-1 1 1 0-2 1 2 0-1 1 1 0 1 1-1 1 0 0 1 1-1 1 2 0-1 1 1 0-1 1 1 0-1 1 1 0-2 0 3 1-1 1 1 0-1 2 0 1 1 0-1 1 0 0 1 1-1 0-1 0 2 2 0 1 1 1-1 0 1 1 1 0-2 1-2 0 3 1 0 1 2 0-2 1 1 0-2 1 1 0-1 1 1 0-1 0 1 1 0 1 1 0-2 0 1 1-1 1 1 0 1 0-2 1 0 0 1 1-1 0 2 0-1 1 1 0-4 1 5 0-1 1-2 0 3 1 0 0-1 1-1 0 2 1-1 1 0 0 1 0-1 2 0 1-1 0 2 1-2 0 1 1 1 0-2 1 1 1 1 0-1 1-1 0 1 2 0 1 1 0 3 1-4 1 0 1 1 1 0 0-1 1 1 0-2 1 1 0 1 1-1 0 1 0-2 1 1 0 1 1-1 0 2 1-2 1 0 0 1 0-2 1 1 1 1 0-4 1 3 0 2 1-3 0 2 1-1 0 1 1-1 0-1 1 1 0 1 0-2 1 2 1 0 0-1 1 0 0 1 1-1 0-1 1 0 1 1 0-1 0 1 1 1 0-1 1 0 1 1 0-3 1 2 0 1 1-4 0 3 0-2 1 1 0-1 1 2 0-1 0 1 1-1 0 2 1-4 0 2 1 0 0-1 1-1 0-2 1 3 0 2 1-1 0-1 1 1 0-1 1 1 0-1 1 2 0-1 1 1 1-1 0 1 1 0 0-1 1 1 0-3 0 3 1-3 0 2 0-1 1 1 0 2 1-4 0 3 0-1 1-1 0 1 1 1 0-3 0 2 1 1 0-1 1-1 0-3 0 4 1 0 0-4 1 2 1 0 0 1 1 1 0-2 1 0 0 1 1-1 0 1 1-1 0 1 0-3 1 2 1 5 0-7 1 4 0-1 1-1 1 0 0-1 1 2 0-2 1 2 0-1 1 2 0-1 1 1 0-1 0 2 1 0 0-3 1 7 0-6 1 2 0-1 1 1 0-1 1-1 0-1 1 4 0-3 1 1 1-1 0 2 0-3 1-1 0 3 1-2 1 1 0 2 0-3 1 0 0 1 1 0 0-3 0 2 1 0 0 2 1-1 0-1 0 1 1 1 0-2 1 3 0-3 1 1 0-1 1 3 0-5 1 3 0-3 1 1 0 3 1 2 0-4 1 1 0-2 1 3 0-2 1-2 1 1 0-2 0 4 1-2 0-1 1 2 0-1 0 2 1-2 1 0 1 2 0-4 1 1 0 2 1 1 0-2 0 2 1 0 0-4 1 2 0-1 1-2 0 3 1 0 0-4 1 1 0 2 1-4 0 4 0-3 1 1 0 1 1-1 0 2 1 7 0-6 1 0 0-1 1 1 0-2 1 3 0-3 1 1 0 1 0-1 1-4 0 4 1-3 0 4 0-4 1 1 0 2 1-2 0-4 1 4 0 1 1 0 0-3 1 0 0 2 0-3 1 4 0-1 1 2 0-2 0 1 1-1 0-1 1 0 0-2 1 3 0-1 1 0 0-1 0 1 1 1 0-2 1-2 0 1 1 3 0-8 0 9 1-2 1 2 0-3 0 1 1-1 0-2 1 3 0-1 0 1 1-2 0 2 1 2 0-1 0 5 1-2 0-6 1 4 0-4 1 5 0-3 1-1 0 2 1 1 0-4 1 1 0 5 1-5 0 5 1-2 0 1 1 0 0 1 1-1 0 1 1 0 0-11 0 11 1-2 0-1 0 3 1 0 0-4 1 3 0 2 1 2 0-3 1 1 0-4 1 3 0 2 1-4 0-4 1 6 0-5 1 3 0 3 0-6 1 3 1-1 0-2 0 2 1 0 0 14 1-15 0 3 1 1 0-2 0 2 1 0 0-4 1 3 0-3 0 2 1-2 0 2 1-2 0-3 1 3 0 2 1-2 0 2 1-5 0 6 1 1 0-5 1 3 1-4 0 5 1-2 0-2 0 6 1-7 0 5 1-3 0 7 0-8 1 4 0-5 1 9 0-10 1 4 0-8 1 7 0-4 0 3 1-4 0 4 1 0 1-1 1 3 0-6 1 4 0-5 1-1 0 6 1 2 0-2 0 1 1-1 0-1 1 5 0-6 1 5 0-1 1-5 0 4 1 0 0-2 1 3 0-2 1 3 0-3 0 3 1-5 0 9 1-9 0 6 1-2 0-4 1 5 0-11 1 6 0 3 1-4 0 6 1-6 0 4 1-4 0-3 0 8 1-5 0 3 1 2 0-4 0 7 1-7 0 9 0-7 1 4 0 3 1-9 0-3 0 7 1-2 0-1 1 3 0-6 0 3 1-2 0 6 1-6 0 6 0-2 1 7 0-8 1 6 0-7 0 5 1-4 0-3 1 14 0-8 1 2 0-13 1 8 0-4 1 1 0 5 1-1 0 1 1-7 0 9 1-6 0 2 1 5 0-8 0 6 1-6 1 0 0 19 1-20 0 2 1-6 0 13 1-13 0 12 1-2 0-3 1 2 0 1 1-8 0 13 0-9 1 6 0-9 0 6 1 3 0-6 1 0 0-2 0 16 1-15 0-5 1 2 0 9 1 3 0-15 0 8 1 3 0-3 1 0 0-2 0 3 1-6 0-2 1 6 0 3 1-5 0 7 1 2 0-13 0 6 1 2 0-9 1 4 0-4 0 7 1 0 0-3 1 7 0-5 1-3 0 6 1-5 0-9 1 14 0 11 0-11 1-2 0 2 1 1 0-6 1 3 1-6 0 6 0-2 1-6 0 12 1-2 0-4 1-4 0 1 1-1 0 3 1-8 0 5 0-3 1 5 1-3 0-5 0 7 1-3 0-1 1 5 0 5 0-2 1 0 0 6 1-10 0 3 0-2 1-4 0 4 1 5 0 8 1-17 0 9 1 0 0-14 1 8 0 6 1-5 0-2 1 9 0-3 0 4 1-5 0 4 1-5 0-4 0 8 1-18 0 14 1-5 0 8 0-11 1-2 0 3 1-4 0 6 1-2 0 6 0-4 1 1 1 1 0 2 0-13 0 8 1-1 0 3 1 8 0-37 1 30 0-8 1 5 0-6 0 5 1-14 0 13 1 2 0-2 1-10 0 18 1-10 0 1 1 3 0 12 0-10 1 0 0-6 1 6 0-4 0 10 1-5 1 2 0-1 0 8 1-1 0-3 1 1 0-14 1 6 1 6 0-5 1 5 0-4 0 5 1-1 0 1 1-1 0 5 1-5 1 6 0-12 1 12 0-5 1-3 0 6 1-6 0-2 1-4 0 13 1-1 0-18 0 14 1-8 0 3 1-2 0 4 1-3 1 4 0-6 0 12 1-30 0 23 1-2 0 4 1-5 0 2 1 9 0-9 1-3 0 13 1-2 0-2 1-5 0 7 0-8 1 4 0-5 1-4 0 8 0-12 1 10 0-1 1-6 0 7 0-6 1 1 0-2 1 8 0 15 0-19 1 6 0-8 1 3 0 10 0-12 1 10 0-13 1-3 0 4 1 8 0-7 0 1 1 7 0 1 1-10 0 8 1-7 0 10 1-6 0 3 0-9 1 2 0-7 1-5 0 5 1 7 0 7 1-13 0 8 1-3 0 5 1-2 0-7 1 17 0-13 1-2 0 3 1 10 0-3 0 3 1-3 0-8 1 6 0-7 0 7 1-10 0 13 1-4 0 4 0-9 1-2 0 13 1-10 0 8 1-2 0 1 0-11 1-2 0 5 1-9 0 9 1 14 0-11 1-22 0 23 1 0 0-6 1 5 0 17 0-9 1 18 0-19 1-17 0 25 0-27 1 5 0 1 1-12 0 1 1 14 0 3 1 0 0-6 1 12 0-5 0 7 1-4 0-8 1 9 0-15 1 8 0 4 1 6 0-5 1-9 0 2 1-4 1 6 0-6 1 7 0-5 1 3 0-7 0 9 1 19 0-12 1-6 0 6 0-10 1 15 0-17 1 1 0-22 0 23 1 14 0-22 0 6 1 1 0 4 0-10 1 2 0 2 1 9 0-6 1 4 0 3 0-8 1-4 0 8 1-6 0 17 0-15 1-4 0 10 1-7 0 15 1-15 0-7 1 12 0 4 0-12 1 6 0-1 1 5 0-44 0 34 1 11 1-15 0 7 1-11 0 14 1-2 0-8 1 19 0-12 1 18 0-5 1-26 0 23 1-5 0-1 1 16 0-12 1-15 0 15 1-5 0 2 1 8 0-13 0 14 1-6 0 20 1-21 0 15 1 1 0-25 1 8 0 11 0-7 1 34 0-37 0 8" stroke="#f0f" stroke-width="3"/>
</g>
<g fill="#000" stroke="none">
<rect x="302" y="84" width="1964" height="6"/>
<rect x="302" y="1517" width="1964" height="7"/>
<rect x="302" y="84" width="6" height="1440"/>
<rect x="2260" y="84" width="6" height="1440"/>
<rect x="273" y="1518" width="32" height="7" rx="1.5"/>
<rect x="287" y="1338" width="18" height="6" rx="1.5"/>
<rect x="273" y="1159" width="32" height="6" rx="1.5"/>
<rect x="287" y="980" width="18" height="6" rx="1.5"/>
<rect x="273" y="801" width="32" height="6" rx="1.5"/>
<rect x="287" y="622" width="18" height="6" rx="1.5"/>
<rect x="273" y="442" width="32" height="6" rx="1.5"/>
<rect x="287" y="263" width="18" height="6" rx="1.5"/>
<rect x="273" y="84" width="32" height="6" rx="1.5"/>
<rect x="302" y="1520" width="6" height="18" rx="1.5"/>
<rect x="465" y="1520" width="6" height="33" rx="1.5"/>
<rect x="628" y="1520" width="6" height="18" rx="1.5"/>
<rect x="791" y="1520" width="6" height="33" rx="1.5"/>
<rect x="955" y="1520" width="6" height="18" rx="1.5"/>
<rect x="1118" y="1520" width="6" height="33" rx="1.5"/>
<rect x="1281" y="1520" width="6" height="18" rx="1.5"/>
<rect x="1444" y="1520" width="6" height="33" rx="1.5"/>
<rect x="1607" y="1520" width="6" height="18" rx="1.5"/>
<rect x="1771" y="1520" width="6" height="33" rx="1.5"/>
<rect x="1934" y="1520" width="6" height="18" rx="1.5"/>
<rect x="2097" y="1520" width="6" height="33" rx="1.5"/>
<rect x="2260" y="1520" width="6" height="18" rx="1.5"/>
</g>
<g font-family="'Liberation Serif', serif" fill="#000" style="font-kerning:none">
<text transform="translate(255.3 1536.5) scale(0.964 1)" font-size="60.5" text-anchor="end">0</text>
<text transform="translate(255.3 1178.6) scale(0.964 1)" font-size="60.5" text-anchor="end">15</text>
<text transform="translate(255.3 820.5) scale(0.964 1)" font-size="60.5" text-anchor="end">30</text>
<text transform="translate(255.3 462.0) scale(0.964 1)" font-size="60.5" text-anchor="end">45</text>
<text transform="translate(255.3 103.6) scale(0.964 1)" font-size="60.5" text-anchor="end">60</text>
<text transform="translate(468.5 1612.5) scale(0.964 1)" font-size="60.5" text-anchor="middle">400</text>
<text transform="translate(794.8 1612.5) scale(0.964 1)" font-size="60.5" text-anchor="middle">800</text>
<text transform="translate(1121.1 1612.5) scale(0.964 1)" font-size="60.5" text-anchor="middle">1200</text>
<text transform="translate(1447.5 1612.5) scale(0.964 1)" font-size="60.5" text-anchor="middle">1600</text>
<text transform="translate(1773.8 1612.5) scale(0.964 1)" font-size="60.5" text-anchor="middle">2000</text>
<text transform="translate(2100.1 1612.5) scale(0.964 1)" font-size="60.5" text-anchor="middle">2400</text>
<text transform="translate(1046 1728.7) scale(0.973 1)" font-size="72.7">Wavelength(nm)</text>
<text transform="translate(81.7 1122.1) rotate(-90) scale(0.973 1)" font-size="72.6">Transmittances(%)</text>
<text transform="translate(1367.3 425.1) scale(0.963 1)" font-size="66.5">0%MoO<tspan font-size="38" dx="-1.7" dy="25.6">3</tspan></text>
<text transform="translate(1367.3 854.9) scale(0.963 1)" font-size="66.5">2%MoO<tspan font-size="38" dx="-1.7" dy="25.6">3</tspan></text>
<text transform="translate(1367.3 1304.1) scale(0.963 1)" font-size="66.5">4%MoO<tspan font-size="38" dx="-1.7" dy="25.6">3</tspan></text>
<text transform="translate(1367.3 1485.9) scale(0.963 1)" font-size="66.5">6%MoO<tspan font-size="38" dx="-1.7" dy="25.6">3</tspan></text>
</g></svg>
</body></html>
